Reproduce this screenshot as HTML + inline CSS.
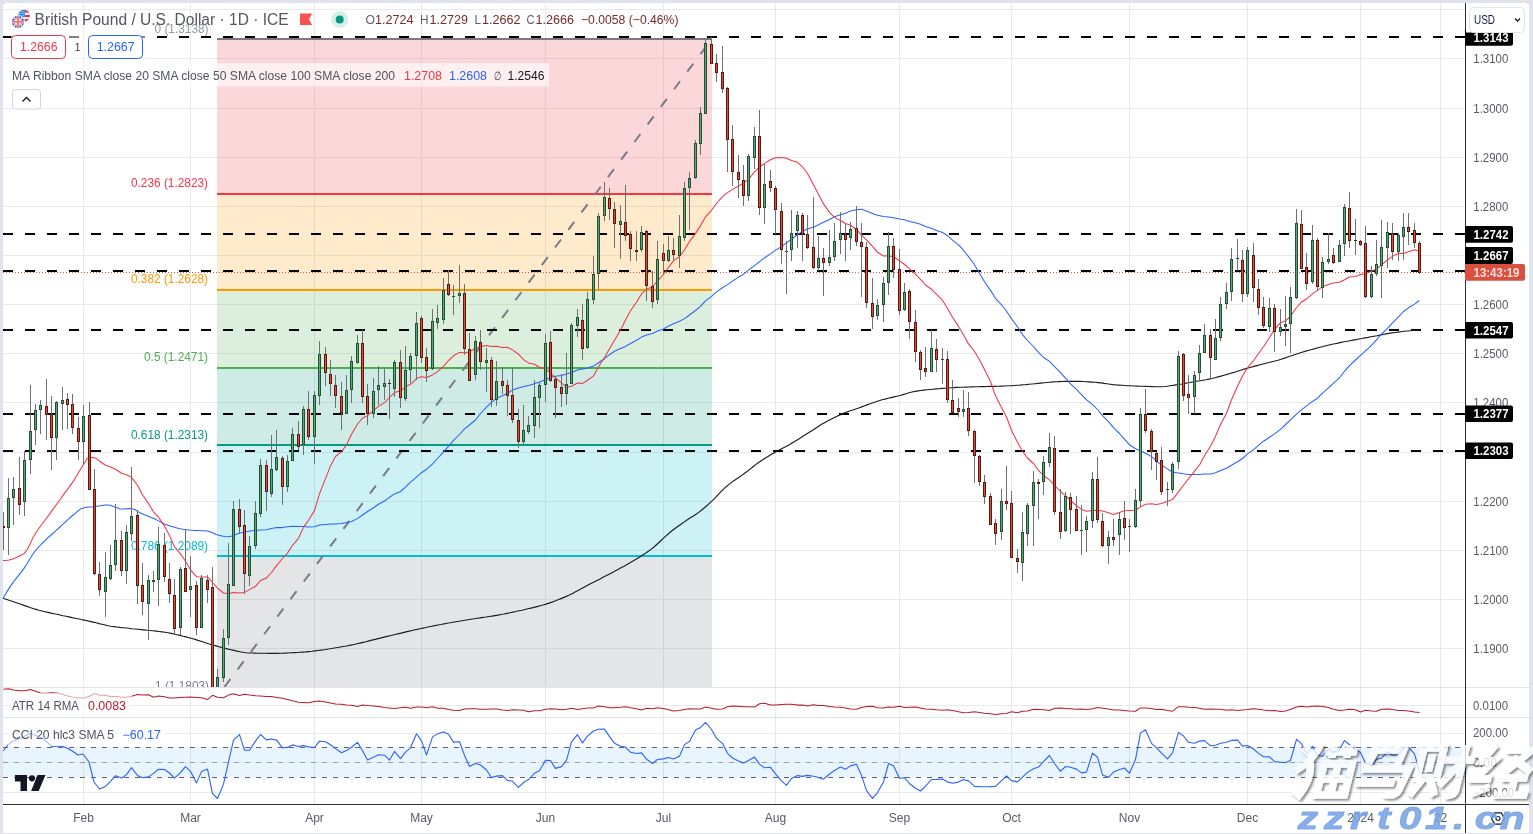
<!DOCTYPE html><html><head><meta charset="utf-8"><style>html,body{margin:0;padding:0;background:#e0e3eb;}body{width:1533px;height:834px;overflow:hidden;position:relative;font-family:"Liberation Sans",sans-serif;}</style></head><body><svg width="1533" height="834" viewBox="0 0 1533 834" style="position:absolute;left:0;top:0;will-change:transform;font-family:'Liberation Sans',sans-serif">
<defs>
<clipPath id="cm"><rect x="3" y="3" width="1462" height="684"/></clipPath>
<clipPath id="ca"><rect x="3" y="688" width="1462" height="29"/></clipPath>
<clipPath id="cc"><rect x="3" y="718" width="1462" height="86"/></clipPath>
<filter id="sh" x="-10%" y="-10%" width="130%" height="140%"><feDropShadow dx="1.8" dy="1.8" stdDeviation="1.1" flood-color="#000" flood-opacity="0.6"/></filter>
</defs>
<rect x="0" y="0" width="1533" height="834" fill="#e0e3eb"/>
<path d="M3,833 V7 Q3,3 7,3 H1525 Q1529,3 1529,7 V833 Z" fill="#ffffff"/>
<g shape-rendering="crispEdges">
<rect x="83" y="3" width="1" height="801" fill="#e9e9ea"/>
<rect x="190" y="3" width="1" height="801" fill="#e9e9ea"/>
<rect x="314" y="3" width="1" height="801" fill="#e9e9ea"/>
<rect x="421" y="3" width="1" height="801" fill="#e9e9ea"/>
<rect x="545" y="3" width="1" height="801" fill="#e9e9ea"/>
<rect x="663" y="3" width="1" height="801" fill="#e9e9ea"/>
<rect x="775" y="3" width="1" height="801" fill="#e9e9ea"/>
<rect x="899" y="3" width="1" height="801" fill="#e9e9ea"/>
<rect x="1011" y="3" width="1" height="801" fill="#e9e9ea"/>
<rect x="1129" y="3" width="1" height="801" fill="#e9e9ea"/>
<rect x="1247" y="3" width="1" height="801" fill="#e9e9ea"/>
<rect x="1360" y="3" width="1" height="801" fill="#e9e9ea"/>
<rect x="1440" y="3" width="1" height="801" fill="#e9e9ea"/>
<rect x="3" y="9" width="1462" height="1" fill="#e9e9ea"/>
<rect x="3" y="58" width="1462" height="1" fill="#e9e9ea"/>
<rect x="3" y="108" width="1462" height="1" fill="#e9e9ea"/>
<rect x="3" y="157" width="1462" height="1" fill="#e9e9ea"/>
<rect x="3" y="206" width="1462" height="1" fill="#e9e9ea"/>
<rect x="3" y="255" width="1462" height="1" fill="#e9e9ea"/>
<rect x="3" y="304" width="1462" height="1" fill="#e9e9ea"/>
<rect x="3" y="353" width="1462" height="1" fill="#e9e9ea"/>
<rect x="3" y="402" width="1462" height="1" fill="#e9e9ea"/>
<rect x="3" y="452" width="1462" height="1" fill="#e9e9ea"/>
<rect x="3" y="501" width="1462" height="1" fill="#e9e9ea"/>
<rect x="3" y="550" width="1462" height="1" fill="#e9e9ea"/>
<rect x="3" y="599" width="1462" height="1" fill="#e9e9ea"/>
<rect x="3" y="648" width="1462" height="1" fill="#e9e9ea"/>
<rect x="3" y="705" width="1462" height="1" fill="#e9e9ea"/>
<rect x="3" y="733" width="1462" height="1" fill="#e9e9ea"/>
<rect x="3" y="792" width="1462" height="1" fill="#e9e9ea"/>
</g>
<g clip-path="url(#cm)" shape-rendering="crispEdges">
<rect x="217" y="39" width="495" height="155" fill="#f23645" fill-opacity="0.2"/>
<rect x="217" y="194" width="495" height="96" fill="#ff9800" fill-opacity="0.2"/>
<rect x="217" y="290" width="495" height="78" fill="#4caf50" fill-opacity="0.2"/>
<rect x="217" y="368" width="495" height="77" fill="#089981" fill-opacity="0.2"/>
<rect x="217" y="445" width="495" height="111" fill="#00bcd4" fill-opacity="0.2"/>
<rect x="217" y="556" width="495" height="131" fill="#787b86" fill-opacity="0.2"/>
<rect x="217" y="38" width="495" height="2" fill="#787b86"/>
<rect x="217" y="193" width="495" height="2" fill="#f23645"/>
<rect x="217" y="289" width="495" height="2" fill="#ff9800"/>
<rect x="217" y="367" width="495" height="2" fill="#4caf50"/>
<rect x="217" y="444" width="495" height="2" fill="#089981"/>
<rect x="217" y="555" width="495" height="2" fill="#00bcd4"/>
</g>
<text x="154.5" y="32.5" font-size="12" fill="#9598a1" textLength="54" lengthAdjust="spacingAndGlyphs">0 (1.3138)</text>
<text x="131" y="187.3" font-size="12" fill="#f23645" textLength="77" lengthAdjust="spacingAndGlyphs">0.236 (1.2823)</text>
<text x="131" y="283.3" font-size="12" fill="#ff9800" textLength="77" lengthAdjust="spacingAndGlyphs">0.382 (1.2628)</text>
<text x="144" y="361.3" font-size="12" fill="#4caf50" textLength="64" lengthAdjust="spacingAndGlyphs">0.5 (1.2471)</text>
<text x="131" y="438.7" font-size="12" fill="#089981" textLength="77" lengthAdjust="spacingAndGlyphs">0.618 (1.2313)</text>
<text x="131" y="549.6" font-size="12" fill="#00bcd4" textLength="77" lengthAdjust="spacingAndGlyphs">0.786 (1.2089)</text>
<g clip-path="url(#cm)"><text x="155" y="690.2" font-size="12" fill="#787b86" textLength="54" lengthAdjust="spacingAndGlyphs">1 (1.1803)</text></g>
<g clip-path="url(#cm)"><line x1="217.5" y1="696.2" x2="711.5" y2="39.5" stroke="#787b86" stroke-width="2" stroke-dasharray="10 12" stroke-dashoffset="-11.5"/></g>
<line x1="3" y1="37" x2="1465" y2="37" stroke="#000" stroke-width="2" stroke-dasharray="10 12" shape-rendering="crispEdges"/>
<line x1="3" y1="234" x2="1465" y2="234" stroke="#000" stroke-width="2" stroke-dasharray="10 12" shape-rendering="crispEdges"/>
<line x1="3" y1="271" x2="1465" y2="271" stroke="#000" stroke-width="2" stroke-dasharray="10 12" shape-rendering="crispEdges"/>
<line x1="3" y1="330" x2="1465" y2="330" stroke="#000" stroke-width="2" stroke-dasharray="10 12" shape-rendering="crispEdges"/>
<line x1="3" y1="414" x2="1465" y2="414" stroke="#000" stroke-width="2" stroke-dasharray="10 12" shape-rendering="crispEdges"/>
<line x1="3" y1="451" x2="1465" y2="451" stroke="#000" stroke-width="2" stroke-dasharray="10 12" shape-rendering="crispEdges"/>
<g clip-path="url(#cm)">
<polyline points="3.0,598.2 6.0,599.2 9.0,600.3 12.0,601.3 15.0,602.3 18.0,603.3 21.0,604.3 24.0,605.4 27.0,606.4 30.0,607.5 33.0,608.5 36.0,609.4 39.0,610.3 42.0,611.0 45.0,611.7 48.0,612.4 51.0,613.1 54.0,613.7 57.0,614.3 60.0,615.0 63.0,615.7 66.0,616.3 69.0,616.9 72.0,617.6 75.0,618.2 78.0,618.8 81.0,619.5 84.0,620.1 87.0,620.7 90.0,621.4 93.0,622.1 96.0,622.8 99.0,623.6 102.0,624.3 105.0,625.0 108.0,625.7 111.0,626.2 114.0,626.6 117.0,627.0 120.0,627.4 123.0,627.7 126.0,628.0 129.0,628.3 132.0,628.7 135.0,629.0 138.0,629.3 141.0,629.6 144.0,629.9 147.0,630.2 150.0,630.5 153.0,630.8 156.0,631.1 159.0,631.5 162.0,631.9 165.0,632.3 168.0,632.8 171.0,633.4 174.0,634.0 177.0,634.7 180.0,635.4 183.0,636.2 186.0,636.9 189.0,637.7 192.0,638.5 195.0,639.4 198.0,640.4 201.0,641.3 204.0,642.3 207.0,643.3 210.0,644.2 213.0,645.1 216.0,645.9 219.0,646.8 222.0,647.6 225.0,648.3 228.0,649.1 231.0,649.7 234.0,650.4 237.0,651.1 240.0,651.7 243.0,652.3 246.0,652.7 249.0,653.0 252.0,653.0 255.0,653.1 258.0,653.2 261.0,653.2 264.0,653.2 267.0,653.3 270.0,653.3 273.0,653.3 276.0,653.3 279.0,653.3 282.0,653.2 285.0,653.1 288.0,653.0 291.0,652.8 294.0,652.6 297.0,652.5 300.0,652.3 303.0,652.1 306.0,651.9 309.0,651.6 312.0,651.3 315.0,650.9 318.0,650.5 321.0,650.1 324.0,649.7 327.0,649.2 330.0,648.8 333.0,648.3 336.0,647.8 339.0,647.3 342.0,646.8 345.0,646.3 348.0,645.7 351.0,645.1 354.0,644.5 357.0,643.8 360.0,643.1 363.0,642.4 366.0,641.7 369.0,640.9 372.0,640.1 375.0,639.4 378.0,638.6 381.0,637.9 384.0,637.1 387.0,636.4 390.0,635.7 393.0,635.0 396.0,634.3 399.0,633.6 402.0,632.9 405.0,632.1 408.0,631.4 411.0,630.7 414.0,630.0 417.0,629.4 420.0,628.7 423.0,628.1 426.0,627.5 429.0,626.8 432.0,626.2 435.0,625.6 438.0,625.0 441.0,624.5 444.0,623.9 447.0,623.3 450.0,622.8 453.0,622.2 456.0,621.7 459.0,621.2 462.0,620.7 465.0,620.2 468.0,619.7 471.0,619.2 474.0,618.8 477.0,618.3 480.0,617.9 483.0,617.4 486.0,617.0 489.0,616.5 492.0,616.1 495.0,615.6 498.0,615.1 501.0,614.5 504.0,614.0 507.0,613.4 510.0,612.8 513.0,612.1 516.0,611.5 519.0,610.8 522.0,610.2 525.0,609.5 528.0,608.8 531.0,608.1 534.0,607.4 537.0,606.6 540.0,605.8 543.0,605.0 546.0,604.1 549.0,603.1 552.0,602.1 555.0,601.0 558.0,599.8 561.0,598.6 564.0,597.4 567.0,596.1 570.0,594.7 573.0,593.2 576.0,591.6 579.0,590.0 582.0,588.3 585.0,586.7 588.0,585.1 591.0,583.5 594.0,581.9 597.0,580.4 600.0,578.9 603.0,577.3 606.0,575.8 609.0,574.3 612.0,572.7 615.0,571.1 618.0,569.5 621.0,567.8 624.0,566.2 627.0,564.5 630.0,562.8 633.0,561.1 636.0,559.3 639.0,557.4 642.0,555.5 645.0,553.6 648.0,551.5 651.0,549.4 654.0,547.0 657.0,544.3 660.0,541.5 663.0,538.7 666.0,535.9 669.0,533.2 672.0,530.8 675.0,528.5 678.0,526.3 681.0,524.2 684.0,522.1 687.0,520.0 690.0,518.1 693.0,516.2 696.0,514.2 699.0,512.1 702.0,509.8 705.0,507.3 708.0,504.7 711.0,501.9 714.0,499.1 717.0,495.9 720.0,492.7 723.0,489.6 726.0,486.8 729.0,484.4 732.0,482.1 735.0,480.0 738.0,477.9 741.0,475.9 744.0,473.7 747.0,471.5 750.0,469.1 753.0,466.7 756.0,464.4 759.0,462.2 762.0,460.2 765.0,458.2 768.0,456.4 771.0,454.6 774.0,452.9 777.0,451.2 780.0,449.6 783.0,448.0 786.0,446.5 789.0,444.9 792.0,443.1 795.0,441.3 798.0,439.5 801.0,437.5 804.0,435.6 807.0,433.7 810.0,431.8 813.0,429.9 816.0,427.9 819.0,426.0 822.0,424.1 825.0,422.4 828.0,420.8 831.0,419.2 834.0,417.7 837.0,416.2 840.0,414.9 843.0,413.6 846.0,412.4 849.0,411.3 852.0,410.3 855.0,409.2 858.0,408.2 861.0,407.1 864.0,406.0 867.0,404.9 870.0,403.8 873.0,402.7 876.0,401.7 879.0,400.7 882.0,399.8 885.0,399.1 888.0,398.3 891.0,397.6 894.0,396.9 897.0,396.2 900.0,395.5 903.0,394.6 906.0,393.7 909.0,392.8 912.0,392.0 915.0,391.4 918.0,390.9 921.0,390.5 924.0,390.1 927.0,389.8 930.0,389.5 933.0,389.2 936.0,388.9 939.0,388.7 942.0,388.4 945.0,388.2 948.0,388.0 951.0,387.8 954.0,387.6 957.0,387.4 960.0,387.3 963.0,387.2 966.0,387.1 969.0,387.0 972.0,386.9 975.0,386.8 978.0,386.7 981.0,386.6 984.0,386.6 987.0,386.5 990.0,386.4 993.0,386.3 996.0,386.3 999.0,386.2 1002.0,386.1 1005.0,386.0 1008.0,385.8 1011.0,385.7 1014.0,385.5 1017.0,385.3 1020.0,385.1 1023.0,384.8 1026.0,384.6 1029.0,384.3 1032.0,384.0 1035.0,383.7 1038.0,383.4 1041.0,383.1 1044.0,382.8 1047.0,382.5 1050.0,382.2 1053.0,381.9 1056.0,381.8 1059.0,381.6 1062.0,381.5 1065.0,381.4 1068.0,381.4 1071.0,381.3 1074.0,381.3 1077.0,381.3 1080.0,381.4 1083.0,381.5 1086.0,381.7 1089.0,381.9 1092.0,382.1 1095.0,382.3 1098.0,382.6 1101.0,382.9 1104.0,383.4 1107.0,383.8 1110.0,384.2 1113.0,384.6 1116.0,384.9 1119.0,385.1 1122.0,385.3 1125.0,385.5 1128.0,385.7 1131.0,385.8 1134.0,386.0 1137.0,386.1 1140.0,386.2 1143.0,386.3 1146.0,386.4 1149.0,386.5 1152.0,386.6 1155.0,386.7 1158.0,386.7 1161.0,386.7 1164.0,386.5 1167.0,386.2 1170.0,385.8 1173.0,385.4 1176.0,384.9 1179.0,384.5 1182.0,384.0 1185.0,383.4 1188.0,382.8 1191.0,382.2 1194.0,381.7 1197.0,381.2 1200.0,380.7 1203.0,380.2 1206.0,379.7 1209.0,379.1 1212.0,378.5 1215.0,377.7 1218.0,376.9 1221.0,376.1 1224.0,375.2 1227.0,374.4 1230.0,373.5 1233.0,372.6 1236.0,371.7 1239.0,370.7 1242.0,369.8 1245.0,368.9 1248.0,368.0 1251.0,367.2 1254.0,366.4 1257.0,365.6 1260.0,364.8 1263.0,364.0 1266.0,363.2 1269.0,362.5 1272.0,361.7 1275.0,361.0 1278.0,360.2 1281.0,359.3 1284.0,358.4 1287.0,357.3 1290.0,356.3 1293.0,355.2 1296.0,354.2 1299.0,353.2 1302.0,352.3 1305.0,351.4 1308.0,350.5 1311.0,349.7 1314.0,348.9 1317.0,348.0 1320.0,347.2 1323.0,346.5 1326.0,345.7 1329.0,345.0 1332.0,344.3 1335.0,343.7 1338.0,343.1 1341.0,342.4 1344.0,341.8 1347.0,341.3 1350.0,340.7 1353.0,340.1 1356.0,339.6 1359.0,339.0 1362.0,338.5 1365.0,337.9 1368.0,337.4 1371.0,336.8 1374.0,336.2 1377.0,335.7 1380.0,335.1 1383.0,334.5 1386.0,333.9 1389.0,333.4 1392.0,332.9 1395.0,332.5 1398.0,332.1 1401.0,331.7 1404.0,331.3 1407.0,331.0 1410.0,330.7 1413.0,330.4 1416.0,330.1 1419.0,329.8 1419.5,329.8" fill="none" stroke="#1c1c1c" stroke-width="1.15" stroke-linejoin="round" />
<polyline points="3.0,598.2 6.0,593.2 9.0,588.4 12.0,583.9 15.0,579.8 18.0,576.1 21.0,572.4 24.0,568.4 27.0,563.8 30.0,558.7 33.0,554.0 36.0,550.0 39.0,546.6 42.0,543.5 45.0,540.6 48.0,537.7 51.0,535.0 54.0,532.3 57.0,529.7 60.0,527.0 63.0,524.2 66.0,521.4 69.0,518.7 72.0,516.0 75.0,513.6 78.0,510.9 81.0,508.7 84.0,507.7 87.0,507.3 90.0,507.0 93.0,506.7 96.0,506.3 99.0,505.9 102.0,505.5 105.0,505.1 108.0,505.0 111.0,505.6 114.0,506.7 117.0,507.8 120.0,508.9 123.0,509.0 126.0,508.8 129.0,508.6 132.0,508.7 135.0,509.8 138.0,511.6 141.0,513.3 144.0,514.6 147.0,515.8 150.0,517.0 153.0,518.2 156.0,519.6 159.0,521.1 162.0,522.8 165.0,524.2 168.0,525.3 171.0,526.3 174.0,527.1 177.0,527.9 180.0,528.7 183.0,529.3 186.0,529.7 189.0,530.1 192.0,530.3 195.0,530.5 198.0,530.6 201.0,530.7 204.0,530.8 207.0,530.9 210.0,531.7 213.0,533.1 216.0,534.5 219.0,535.3 222.0,536.0 225.0,536.5 228.0,536.7 231.0,536.2 234.0,535.2 237.0,534.0 240.0,533.0 243.0,532.4 246.0,531.8 249.0,531.2 252.0,530.8 255.0,530.4 256.0,530.3 266.5,529.7 271.5,528.5 276.5,527.6 282.5,527.6 287.5,526.7 292.5,526.2 298.5,526.5 303.5,526.5 308.5,527.1 314.5,526.7 319.5,525.0 325.5,524.4 330.5,524.1 335.5,523.9 341.5,523.6 346.5,522.6 351.5,521.5 357.5,518.6 362.5,515.0 367.5,511.5 373.5,507.8 378.5,504.2 384.5,501.0 389.5,497.3 394.5,493.9 400.5,491.5 405.5,487.2 410.5,482.2 416.5,477.1 421.5,472.7 426.5,469.2 432.5,464.1 437.5,458.5 443.5,451.8 448.5,446.3 453.5,440.4 459.5,434.5 464.5,428.9 469.5,425.0 475.5,420.0 480.5,413.5 486.5,407.1 491.5,402.4 496.5,398.3 502.5,395.8 507.5,393.2 512.5,390.1 518.5,388.1 523.5,386.4 528.5,385.6 534.5,383.7 539.5,382.0 545.5,379.8 550.5,377.6 555.5,376.2 561.5,375.4 566.5,374.1 571.5,372.4 577.5,370.1 582.5,369.1 587.5,368.0 593.5,366.1 598.5,362.7 604.5,358.7 609.5,354.7 614.5,351.3 620.5,348.5 625.5,346.4 630.5,343.5 636.5,340.2 641.5,337.1 646.5,335.1 652.5,333.5 657.5,331.0 663.5,329.0 668.5,326.0 673.5,323.7 679.5,321.3 684.5,318.6 689.5,315.0 695.5,310.5 700.5,306.3 705.5,300.8 711.5,296.3 716.5,291.9 722.5,287.7 727.5,284.6 732.5,281.1 738.5,277.1 743.5,274.2 748.5,270.1 754.5,265.6 759.5,261.7 764.5,257.8 770.5,253.9 775.5,250.1 781.5,246.7 786.5,242.9 791.5,239.0 797.5,234.8 802.5,231.5 807.5,228.7 813.5,227.2 818.5,224.8 823.5,222.3 829.5,219.5 834.5,216.7 840.5,214.8 845.5,213.3 850.5,210.9 856.5,209.8 861.5,209.2 866.5,211.0 872.5,213.4 877.5,215.3 883.5,216.5 888.5,217.0 893.5,217.7 899.5,218.9 904.5,219.7 909.5,221.5 915.5,222.8 920.5,224.2 925.5,226.4 931.5,228.2 936.5,230.4 942.5,232.4 947.5,235.7 952.5,240.2 958.5,244.9 963.5,250.2 968.5,256.6 974.5,264.8 979.5,273.2 984.5,281.7 990.5,290.4 995.5,298.3 1001.5,304.8 1006.5,311.3 1011.5,318.6 1017.5,326.7 1022.5,334.6 1027.5,340.5 1033.5,346.5 1038.5,352.4 1043.5,357.5 1049.5,361.4 1054.5,366.6 1060.5,372.6 1065.5,378.2 1070.5,383.8 1076.5,389.4 1081.5,394.7 1086.5,399.9 1092.5,404.3 1097.5,409.5 1102.5,415.6 1108.5,421.7 1113.5,427.7 1119.5,433.5 1124.5,439.2 1129.5,444.8 1135.5,448.7 1140.5,450.7 1145.5,453.2 1151.5,456.6 1156.5,460.9 1161.5,465.3 1167.5,468.9 1172.5,472.3 1178.5,473.0 1183.5,473.8 1188.5,474.4 1194.5,474.4 1199.5,474.5 1204.5,474.1 1210.5,474.0 1215.5,472.8 1220.5,470.6 1226.5,468.2 1231.5,465.2 1237.5,461.8 1242.5,458.5 1247.5,453.9 1253.5,449.7 1258.5,445.4 1263.5,441.2 1269.5,437.3 1274.5,433.9 1280.5,429.3 1285.5,424.5 1290.5,419.8 1296.5,414.2 1301.5,409.9 1306.5,405.9 1312.5,401.4 1317.5,398.2 1322.5,393.2 1328.5,387.8 1333.5,383.1 1339.5,377.8 1344.5,371.3 1349.5,365.6 1355.5,360.0 1360.5,355.3 1365.5,350.8 1371.5,345.3 1376.5,339.9 1381.5,334.0 1387.5,328.3 1392.5,322.8 1398.5,316.9 1403.5,311.5 1408.5,307.8 1414.5,304.1 1419.5,300.5" fill="none" stroke="#2962ff" stroke-width="1.05" stroke-linejoin="round" />
<polyline points="3.0,560.6 6.0,560.4 9.0,560.0 12.0,559.2 15.0,558.1 18.0,556.8 21.0,555.3 24.0,553.6 27.0,550.0 30.0,544.0 33.0,537.6 36.0,532.5 39.0,528.2 42.0,524.2 45.0,520.3 48.0,516.2 51.0,512.1 54.0,507.9 57.0,503.7 60.0,499.5 63.0,495.4 66.0,491.4 69.0,487.4 72.0,483.1 75.0,478.6 78.0,473.6 81.0,468.5 84.0,463.8 87.0,458.7 90.0,457.2 93.0,457.5 96.0,458.3 99.0,460.6 99.5,461.0 105.5,465.3 110.5,467.1 115.5,469.2 121.5,473.3 126.5,474.7 131.5,477.4 137.5,485.2 142.5,494.8 148.5,503.6 153.5,511.8 158.5,517.2 164.5,525.9 169.5,535.6 174.5,546.8 180.5,553.9 185.5,561.3 190.5,569.8 196.5,576.7 201.5,576.9 207.5,576.9 212.5,582.5 217.5,588.1 223.5,593.0 228.5,593.7 233.5,592.5 239.5,593.0 244.5,592.4 249.5,589.6 255.5,586.3 260.5,580.5 266.5,577.9 271.5,572.5 276.5,565.6 282.5,558.5 287.5,553.1 292.5,545.3 298.5,538.3 303.5,527.4 308.5,520.3 314.5,510.6 319.5,493.8 325.5,478.6 330.5,465.9 335.5,456.5 341.5,451.7 346.5,444.9 351.5,434.2 357.5,424.0 362.5,418.2 367.5,415.6 373.5,410.6 378.5,406.4 384.5,402.6 389.5,397.5 394.5,392.6 400.5,390.8 405.5,386.9 410.5,384.3 416.5,378.6 421.5,376.7 426.5,377.5 432.5,374.9 437.5,371.6 443.5,366.4 448.5,360.5 453.5,355.8 459.5,352.4 464.5,352.7 469.5,351.9 475.5,348.2 480.5,346.8 486.5,345.6 491.5,346.4 496.5,346.3 502.5,347.4 507.5,347.3 512.5,349.9 518.5,354.2 523.5,359.6 528.5,362.9 534.5,364.3 539.5,367.5 545.5,368.7 550.5,373.2 555.5,377.9 561.5,382.8 566.5,387.3 571.5,386.2 577.5,383.0 582.5,383.4 587.5,380.2 593.5,375.9 598.5,366.7 604.5,357.5 609.5,348.7 614.5,340.2 620.5,330.2 625.5,319.9 630.5,310.8 636.5,302.2 641.5,293.9 646.5,289.0 652.5,287.0 657.5,280.9 663.5,274.5 668.5,267.3 673.5,260.9 679.5,256.4 684.5,250.0 689.5,241.5 695.5,233.6 700.5,225.6 705.5,216.9 711.5,210.3 716.5,203.5 722.5,196.7 727.5,192.6 732.5,189.4 738.5,186.0 743.5,183.1 748.5,179.3 754.5,171.8 759.5,167.1 764.5,163.4 770.5,159.7 775.5,157.7 781.5,157.5 786.5,158.2 791.5,160.4 797.5,162.3 802.5,166.8 807.5,173.5 813.5,184.7 818.5,194.4 823.5,203.9 829.5,212.4 834.5,217.4 840.5,220.5 845.5,223.5 850.5,225.2 856.5,229.5 861.5,235.1 866.5,239.8 872.5,246.4 877.5,252.3 883.5,256.0 888.5,255.8 893.5,256.8 899.5,260.7 904.5,264.5 909.5,268.9 915.5,274.2 920.5,279.3 925.5,285.0 931.5,289.3 936.5,294.4 942.5,300.3 947.5,308.6 952.5,317.3 958.5,326.4 963.5,334.7 968.5,343.9 974.5,351.5 979.5,359.8 984.5,369.4 990.5,381.5 995.5,395.8 1001.5,407.4 1006.5,417.0 1011.5,430.3 1017.5,442.3 1022.5,451.3 1027.5,458.0 1033.5,463.5 1038.5,470.3 1043.5,475.5 1049.5,479.9 1054.5,485.5 1060.5,491.4 1065.5,495.7 1070.5,500.7 1076.5,505.7 1081.5,509.4 1086.5,511.3 1092.5,510.4 1097.5,510.2 1102.5,510.9 1108.5,512.7 1113.5,514.5 1119.5,512.5 1124.5,510.8 1129.5,510.5 1135.5,510.3 1140.5,506.9 1145.5,504.2 1151.5,503.7 1156.5,504.4 1161.5,503.4 1167.5,501.2 1172.5,499.6 1178.5,491.9 1183.5,485.2 1188.5,478.6 1194.5,471.3 1199.5,465.0 1204.5,455.7 1210.5,446.2 1215.5,436.3 1220.5,424.5 1226.5,413.2 1231.5,399.7 1237.5,386.3 1242.5,376.0 1247.5,367.8 1253.5,360.7 1258.5,353.5 1263.5,346.7 1269.5,337.5 1274.5,329.6 1280.5,322.7 1285.5,321.1 1290.5,316.2 1296.5,307.5 1301.5,302.2 1306.5,298.7 1312.5,293.9 1317.5,290.4 1322.5,286.6 1328.5,284.4 1333.5,282.9 1339.5,282.2 1344.5,279.7 1349.5,277.0 1355.5,276.6 1360.5,274.4 1365.5,273.8 1371.5,271.2 1376.5,269.0 1381.5,264.8 1387.5,260.0 1392.5,256.4 1398.5,253.3 1403.5,253.5 1408.5,251.7 1414.5,249.7 1419.5,251.3" fill="none" stroke="#f23645" stroke-width="1.05" stroke-linejoin="round" />
</g>
<line x1="3" y1="272.5" x2="1465" y2="272.5" stroke="#d9503f" stroke-width="1" stroke-dasharray="1 2" shape-rendering="crispEdges"/>
<g clip-path="url(#cm)" shape-rendering="crispEdges">
<rect x="3" y="512" width="1" height="38" fill="#6f7074"/>
<rect x="2" y="526" width="3" height="2" fill="#5e160d"/>
<rect x="8" y="478" width="1" height="77" fill="#6f7074"/>
<rect x="7" y="498" width="3" height="30" fill="#1f5233"/>
<rect x="8" y="499" width="1" height="28" fill="#63a37b"/>
<rect x="13" y="477" width="1" height="48" fill="#6f7074"/>
<rect x="12" y="489" width="3" height="9" fill="#1f5233"/>
<rect x="13" y="490" width="1" height="7" fill="#63a37b"/>
<rect x="19" y="457" width="1" height="58" fill="#6f7074"/>
<rect x="18" y="488" width="3" height="17" fill="#5e160d"/>
<rect x="19" y="489" width="1" height="15" fill="#d9503f"/>
<rect x="24" y="451" width="1" height="65" fill="#6f7074"/>
<rect x="23" y="460" width="3" height="42" fill="#1f5233"/>
<rect x="24" y="461" width="1" height="40" fill="#63a37b"/>
<rect x="30" y="385" width="1" height="89" fill="#6f7074"/>
<rect x="29" y="431" width="3" height="29" fill="#1f5233"/>
<rect x="30" y="432" width="1" height="27" fill="#63a37b"/>
<rect x="35" y="404" width="1" height="41" fill="#6f7074"/>
<rect x="34" y="410" width="3" height="20" fill="#1f5233"/>
<rect x="35" y="411" width="1" height="18" fill="#63a37b"/>
<rect x="40" y="400" width="1" height="34" fill="#6f7074"/>
<rect x="39" y="405" width="3" height="5" fill="#1f5233"/>
<rect x="40" y="406" width="1" height="3" fill="#63a37b"/>
<rect x="46" y="379" width="1" height="61" fill="#6f7074"/>
<rect x="45" y="406" width="3" height="9" fill="#5e160d"/>
<rect x="46" y="407" width="1" height="7" fill="#d9503f"/>
<rect x="51" y="396" width="1" height="74" fill="#6f7074"/>
<rect x="50" y="414" width="3" height="24" fill="#5e160d"/>
<rect x="51" y="415" width="1" height="22" fill="#d9503f"/>
<rect x="56" y="401" width="1" height="59" fill="#6f7074"/>
<rect x="55" y="402" width="3" height="36" fill="#1f5233"/>
<rect x="56" y="403" width="1" height="34" fill="#63a37b"/>
<rect x="62" y="387" width="1" height="43" fill="#6f7074"/>
<rect x="61" y="400" width="3" height="4" fill="#1f5233"/>
<rect x="62" y="401" width="1" height="2" fill="#63a37b"/>
<rect x="67" y="393" width="1" height="36" fill="#6f7074"/>
<rect x="66" y="399" width="3" height="6" fill="#5e160d"/>
<rect x="67" y="400" width="1" height="4" fill="#d9503f"/>
<rect x="72" y="394" width="1" height="40" fill="#6f7074"/>
<rect x="71" y="404" width="3" height="24" fill="#5e160d"/>
<rect x="72" y="405" width="1" height="22" fill="#d9503f"/>
<rect x="78" y="417" width="1" height="43" fill="#6f7074"/>
<rect x="77" y="428" width="3" height="14" fill="#5e160d"/>
<rect x="78" y="429" width="1" height="12" fill="#d9503f"/>
<rect x="83" y="405" width="1" height="60" fill="#6f7074"/>
<rect x="82" y="416" width="3" height="26" fill="#1f5233"/>
<rect x="83" y="417" width="1" height="24" fill="#63a37b"/>
<rect x="89" y="402" width="1" height="88" fill="#6f7074"/>
<rect x="88" y="415" width="3" height="75" fill="#5e160d"/>
<rect x="89" y="416" width="1" height="73" fill="#d9503f"/>
<rect x="94" y="469" width="1" height="106" fill="#6f7074"/>
<rect x="93" y="489" width="3" height="85" fill="#5e160d"/>
<rect x="94" y="490" width="1" height="83" fill="#d9503f"/>
<rect x="99" y="562" width="1" height="34" fill="#6f7074"/>
<rect x="98" y="574" width="3" height="16" fill="#5e160d"/>
<rect x="99" y="575" width="1" height="14" fill="#d9503f"/>
<rect x="105" y="552" width="1" height="65" fill="#6f7074"/>
<rect x="104" y="577" width="3" height="15" fill="#1f5233"/>
<rect x="105" y="578" width="1" height="13" fill="#63a37b"/>
<rect x="110" y="545" width="1" height="35" fill="#6f7074"/>
<rect x="109" y="565" width="3" height="14" fill="#1f5233"/>
<rect x="110" y="566" width="1" height="12" fill="#63a37b"/>
<rect x="115" y="504" width="1" height="67" fill="#6f7074"/>
<rect x="114" y="540" width="3" height="25" fill="#1f5233"/>
<rect x="115" y="541" width="1" height="23" fill="#63a37b"/>
<rect x="121" y="531" width="1" height="45" fill="#6f7074"/>
<rect x="120" y="540" width="3" height="31" fill="#5e160d"/>
<rect x="121" y="541" width="1" height="29" fill="#d9503f"/>
<rect x="126" y="525" width="1" height="59" fill="#6f7074"/>
<rect x="125" y="532" width="3" height="39" fill="#1f5233"/>
<rect x="126" y="533" width="1" height="37" fill="#63a37b"/>
<rect x="131" y="467" width="1" height="74" fill="#6f7074"/>
<rect x="130" y="516" width="3" height="18" fill="#1f5233"/>
<rect x="131" y="517" width="1" height="16" fill="#63a37b"/>
<rect x="137" y="510" width="1" height="94" fill="#6f7074"/>
<rect x="136" y="515" width="3" height="71" fill="#5e160d"/>
<rect x="137" y="516" width="1" height="69" fill="#d9503f"/>
<rect x="142" y="563" width="1" height="52" fill="#6f7074"/>
<rect x="141" y="585" width="3" height="17" fill="#5e160d"/>
<rect x="142" y="586" width="1" height="15" fill="#d9503f"/>
<rect x="148" y="575" width="1" height="65" fill="#6f7074"/>
<rect x="147" y="580" width="3" height="24" fill="#1f5233"/>
<rect x="148" y="581" width="1" height="22" fill="#63a37b"/>
<rect x="153" y="571" width="1" height="21" fill="#6f7074"/>
<rect x="152" y="580" width="3" height="2" fill="#1f5233"/>
<rect x="158" y="527" width="1" height="79" fill="#6f7074"/>
<rect x="157" y="544" width="3" height="36" fill="#1f5233"/>
<rect x="158" y="545" width="1" height="34" fill="#63a37b"/>
<rect x="164" y="533" width="1" height="49" fill="#6f7074"/>
<rect x="163" y="545" width="3" height="32" fill="#5e160d"/>
<rect x="164" y="546" width="1" height="30" fill="#d9503f"/>
<rect x="169" y="563" width="1" height="40" fill="#6f7074"/>
<rect x="168" y="579" width="3" height="15" fill="#5e160d"/>
<rect x="169" y="580" width="1" height="13" fill="#d9503f"/>
<rect x="174" y="579" width="1" height="55" fill="#6f7074"/>
<rect x="173" y="595" width="3" height="34" fill="#5e160d"/>
<rect x="174" y="596" width="1" height="32" fill="#d9503f"/>
<rect x="180" y="567" width="1" height="68" fill="#6f7074"/>
<rect x="179" y="569" width="3" height="59" fill="#1f5233"/>
<rect x="180" y="570" width="1" height="57" fill="#63a37b"/>
<rect x="185" y="529" width="1" height="63" fill="#6f7074"/>
<rect x="184" y="568" width="3" height="24" fill="#5e160d"/>
<rect x="185" y="569" width="1" height="22" fill="#d9503f"/>
<rect x="190" y="556" width="1" height="61" fill="#6f7074"/>
<rect x="189" y="586" width="3" height="4" fill="#1f5233"/>
<rect x="190" y="587" width="1" height="2" fill="#63a37b"/>
<rect x="196" y="581" width="1" height="54" fill="#6f7074"/>
<rect x="195" y="585" width="3" height="43" fill="#5e160d"/>
<rect x="196" y="586" width="1" height="41" fill="#d9503f"/>
<rect x="201" y="575" width="1" height="53" fill="#6f7074"/>
<rect x="200" y="578" width="3" height="50" fill="#1f5233"/>
<rect x="201" y="579" width="1" height="48" fill="#63a37b"/>
<rect x="207" y="575" width="1" height="28" fill="#6f7074"/>
<rect x="206" y="580" width="3" height="10" fill="#5e160d"/>
<rect x="207" y="581" width="1" height="8" fill="#d9503f"/>
<rect x="212" y="567" width="1" height="129" fill="#6f7074"/>
<rect x="211" y="587" width="3" height="103" fill="#5e160d"/>
<rect x="212" y="588" width="1" height="101" fill="#d9503f"/>
<rect x="217" y="669" width="1" height="27" fill="#6f7074"/>
<rect x="216" y="677" width="3" height="13" fill="#1f5233"/>
<rect x="217" y="678" width="1" height="11" fill="#63a37b"/>
<rect x="223" y="629" width="1" height="53" fill="#6f7074"/>
<rect x="222" y="638" width="3" height="40" fill="#1f5233"/>
<rect x="223" y="639" width="1" height="38" fill="#63a37b"/>
<rect x="228" y="543" width="1" height="102" fill="#6f7074"/>
<rect x="227" y="584" width="3" height="54" fill="#1f5233"/>
<rect x="228" y="585" width="1" height="52" fill="#63a37b"/>
<rect x="233" y="501" width="1" height="85" fill="#6f7074"/>
<rect x="232" y="509" width="3" height="77" fill="#1f5233"/>
<rect x="233" y="510" width="1" height="75" fill="#63a37b"/>
<rect x="239" y="499" width="1" height="34" fill="#6f7074"/>
<rect x="238" y="509" width="3" height="18" fill="#5e160d"/>
<rect x="239" y="510" width="1" height="16" fill="#d9503f"/>
<rect x="244" y="510" width="1" height="84" fill="#6f7074"/>
<rect x="243" y="525" width="3" height="49" fill="#5e160d"/>
<rect x="244" y="526" width="1" height="47" fill="#d9503f"/>
<rect x="249" y="536" width="1" height="50" fill="#6f7074"/>
<rect x="248" y="546" width="3" height="30" fill="#1f5233"/>
<rect x="249" y="547" width="1" height="28" fill="#63a37b"/>
<rect x="255" y="501" width="1" height="48" fill="#6f7074"/>
<rect x="254" y="513" width="3" height="33" fill="#1f5233"/>
<rect x="255" y="514" width="1" height="31" fill="#63a37b"/>
<rect x="260" y="459" width="1" height="58" fill="#6f7074"/>
<rect x="259" y="465" width="3" height="49" fill="#1f5233"/>
<rect x="260" y="466" width="1" height="47" fill="#63a37b"/>
<rect x="266" y="460" width="1" height="51" fill="#6f7074"/>
<rect x="265" y="465" width="3" height="27" fill="#5e160d"/>
<rect x="266" y="466" width="1" height="25" fill="#d9503f"/>
<rect x="271" y="435" width="1" height="62" fill="#6f7074"/>
<rect x="270" y="469" width="3" height="25" fill="#1f5233"/>
<rect x="271" y="470" width="1" height="23" fill="#63a37b"/>
<rect x="276" y="430" width="1" height="41" fill="#6f7074"/>
<rect x="275" y="457" width="3" height="13" fill="#1f5233"/>
<rect x="276" y="458" width="1" height="11" fill="#63a37b"/>
<rect x="282" y="456" width="1" height="49" fill="#6f7074"/>
<rect x="281" y="458" width="3" height="29" fill="#5e160d"/>
<rect x="282" y="459" width="1" height="27" fill="#d9503f"/>
<rect x="287" y="455" width="1" height="37" fill="#6f7074"/>
<rect x="286" y="461" width="3" height="26" fill="#1f5233"/>
<rect x="287" y="462" width="1" height="24" fill="#63a37b"/>
<rect x="292" y="428" width="1" height="33" fill="#6f7074"/>
<rect x="291" y="434" width="3" height="27" fill="#1f5233"/>
<rect x="292" y="435" width="1" height="25" fill="#63a37b"/>
<rect x="298" y="421" width="1" height="29" fill="#6f7074"/>
<rect x="297" y="434" width="3" height="13" fill="#5e160d"/>
<rect x="298" y="435" width="1" height="11" fill="#d9503f"/>
<rect x="303" y="406" width="1" height="49" fill="#6f7074"/>
<rect x="302" y="409" width="3" height="36" fill="#1f5233"/>
<rect x="303" y="410" width="1" height="34" fill="#63a37b"/>
<rect x="308" y="391" width="1" height="49" fill="#6f7074"/>
<rect x="307" y="409" width="3" height="28" fill="#5e160d"/>
<rect x="308" y="410" width="1" height="26" fill="#d9503f"/>
<rect x="314" y="391" width="1" height="73" fill="#6f7074"/>
<rect x="313" y="395" width="3" height="42" fill="#1f5233"/>
<rect x="314" y="396" width="1" height="40" fill="#63a37b"/>
<rect x="319" y="341" width="1" height="64" fill="#6f7074"/>
<rect x="318" y="354" width="3" height="42" fill="#1f5233"/>
<rect x="319" y="355" width="1" height="40" fill="#63a37b"/>
<rect x="325" y="347" width="1" height="39" fill="#6f7074"/>
<rect x="324" y="354" width="3" height="19" fill="#5e160d"/>
<rect x="325" y="355" width="1" height="17" fill="#d9503f"/>
<rect x="330" y="360" width="1" height="36" fill="#6f7074"/>
<rect x="329" y="374" width="3" height="10" fill="#5e160d"/>
<rect x="330" y="375" width="1" height="8" fill="#d9503f"/>
<rect x="335" y="375" width="1" height="33" fill="#6f7074"/>
<rect x="334" y="385" width="3" height="11" fill="#5e160d"/>
<rect x="335" y="386" width="1" height="9" fill="#d9503f"/>
<rect x="341" y="382" width="1" height="48" fill="#6f7074"/>
<rect x="340" y="396" width="3" height="17" fill="#5e160d"/>
<rect x="341" y="397" width="1" height="15" fill="#d9503f"/>
<rect x="346" y="375" width="1" height="39" fill="#6f7074"/>
<rect x="345" y="390" width="3" height="24" fill="#1f5233"/>
<rect x="346" y="391" width="1" height="22" fill="#63a37b"/>
<rect x="351" y="356" width="1" height="47" fill="#6f7074"/>
<rect x="350" y="361" width="3" height="29" fill="#1f5233"/>
<rect x="351" y="362" width="1" height="27" fill="#63a37b"/>
<rect x="357" y="335" width="1" height="29" fill="#6f7074"/>
<rect x="356" y="343" width="3" height="20" fill="#1f5233"/>
<rect x="357" y="344" width="1" height="18" fill="#63a37b"/>
<rect x="362" y="330" width="1" height="73" fill="#6f7074"/>
<rect x="361" y="343" width="3" height="54" fill="#5e160d"/>
<rect x="362" y="344" width="1" height="52" fill="#d9503f"/>
<rect x="367" y="384" width="1" height="41" fill="#6f7074"/>
<rect x="366" y="396" width="3" height="18" fill="#5e160d"/>
<rect x="367" y="397" width="1" height="16" fill="#d9503f"/>
<rect x="373" y="378" width="1" height="40" fill="#6f7074"/>
<rect x="372" y="391" width="3" height="23" fill="#1f5233"/>
<rect x="373" y="392" width="1" height="21" fill="#63a37b"/>
<rect x="378" y="366" width="1" height="39" fill="#6f7074"/>
<rect x="377" y="385" width="3" height="5" fill="#1f5233"/>
<rect x="378" y="386" width="1" height="3" fill="#63a37b"/>
<rect x="384" y="369" width="1" height="31" fill="#6f7074"/>
<rect x="383" y="383" width="3" height="4" fill="#1f5233"/>
<rect x="384" y="384" width="1" height="2" fill="#63a37b"/>
<rect x="389" y="379" width="1" height="40" fill="#6f7074"/>
<rect x="388" y="383" width="3" height="1" fill="#5e160d"/>
<rect x="394" y="360" width="1" height="37" fill="#6f7074"/>
<rect x="393" y="362" width="3" height="27" fill="#1f5233"/>
<rect x="394" y="363" width="1" height="25" fill="#63a37b"/>
<rect x="400" y="350" width="1" height="58" fill="#6f7074"/>
<rect x="399" y="362" width="3" height="36" fill="#5e160d"/>
<rect x="400" y="363" width="1" height="34" fill="#d9503f"/>
<rect x="405" y="346" width="1" height="55" fill="#6f7074"/>
<rect x="404" y="370" width="3" height="29" fill="#1f5233"/>
<rect x="405" y="371" width="1" height="27" fill="#63a37b"/>
<rect x="410" y="353" width="1" height="30" fill="#6f7074"/>
<rect x="409" y="356" width="3" height="14" fill="#1f5233"/>
<rect x="410" y="357" width="1" height="12" fill="#63a37b"/>
<rect x="416" y="312" width="1" height="68" fill="#6f7074"/>
<rect x="415" y="323" width="3" height="33" fill="#1f5233"/>
<rect x="416" y="324" width="1" height="31" fill="#63a37b"/>
<rect x="421" y="316" width="1" height="47" fill="#6f7074"/>
<rect x="420" y="318" width="3" height="40" fill="#5e160d"/>
<rect x="421" y="319" width="1" height="38" fill="#d9503f"/>
<rect x="426" y="348" width="1" height="34" fill="#6f7074"/>
<rect x="425" y="357" width="3" height="14" fill="#5e160d"/>
<rect x="426" y="358" width="1" height="12" fill="#d9503f"/>
<rect x="432" y="309" width="1" height="61" fill="#6f7074"/>
<rect x="431" y="321" width="3" height="48" fill="#1f5233"/>
<rect x="432" y="322" width="1" height="46" fill="#63a37b"/>
<rect x="437" y="305" width="1" height="24" fill="#6f7074"/>
<rect x="436" y="318" width="3" height="5" fill="#1f5233"/>
<rect x="437" y="319" width="1" height="3" fill="#63a37b"/>
<rect x="443" y="278" width="1" height="46" fill="#6f7074"/>
<rect x="442" y="290" width="3" height="30" fill="#1f5233"/>
<rect x="443" y="291" width="1" height="28" fill="#63a37b"/>
<rect x="448" y="270" width="1" height="26" fill="#6f7074"/>
<rect x="447" y="284" width="3" height="11" fill="#5e160d"/>
<rect x="448" y="285" width="1" height="9" fill="#d9503f"/>
<rect x="453" y="285" width="1" height="30" fill="#6f7074"/>
<rect x="452" y="296" width="3" height="1" fill="#1f5233"/>
<rect x="459" y="265" width="1" height="38" fill="#6f7074"/>
<rect x="458" y="293" width="3" height="3" fill="#1f5233"/>
<rect x="459" y="294" width="1" height="1" fill="#63a37b"/>
<rect x="464" y="284" width="1" height="71" fill="#6f7074"/>
<rect x="463" y="293" width="3" height="56" fill="#5e160d"/>
<rect x="464" y="294" width="1" height="54" fill="#d9503f"/>
<rect x="469" y="333" width="1" height="48" fill="#6f7074"/>
<rect x="468" y="349" width="3" height="32" fill="#5e160d"/>
<rect x="469" y="350" width="1" height="30" fill="#d9503f"/>
<rect x="475" y="336" width="1" height="44" fill="#6f7074"/>
<rect x="474" y="341" width="3" height="34" fill="#1f5233"/>
<rect x="475" y="342" width="1" height="32" fill="#63a37b"/>
<rect x="480" y="330" width="1" height="40" fill="#6f7074"/>
<rect x="479" y="342" width="3" height="20" fill="#5e160d"/>
<rect x="480" y="343" width="1" height="18" fill="#d9503f"/>
<rect x="486" y="348" width="1" height="44" fill="#6f7074"/>
<rect x="485" y="360" width="3" height="3" fill="#1f5233"/>
<rect x="486" y="361" width="1" height="1" fill="#63a37b"/>
<rect x="491" y="357" width="1" height="50" fill="#6f7074"/>
<rect x="490" y="360" width="3" height="40" fill="#5e160d"/>
<rect x="491" y="361" width="1" height="38" fill="#d9503f"/>
<rect x="496" y="361" width="1" height="45" fill="#6f7074"/>
<rect x="495" y="381" width="3" height="19" fill="#1f5233"/>
<rect x="496" y="382" width="1" height="17" fill="#63a37b"/>
<rect x="502" y="367" width="1" height="27" fill="#6f7074"/>
<rect x="501" y="381" width="3" height="5" fill="#5e160d"/>
<rect x="502" y="382" width="1" height="3" fill="#d9503f"/>
<rect x="507" y="380" width="1" height="36" fill="#6f7074"/>
<rect x="506" y="385" width="3" height="11" fill="#5e160d"/>
<rect x="507" y="386" width="1" height="9" fill="#d9503f"/>
<rect x="512" y="368" width="1" height="55" fill="#6f7074"/>
<rect x="511" y="395" width="3" height="25" fill="#5e160d"/>
<rect x="512" y="396" width="1" height="23" fill="#d9503f"/>
<rect x="518" y="409" width="1" height="39" fill="#6f7074"/>
<rect x="517" y="420" width="3" height="22" fill="#5e160d"/>
<rect x="518" y="421" width="1" height="20" fill="#d9503f"/>
<rect x="523" y="405" width="1" height="40" fill="#6f7074"/>
<rect x="522" y="430" width="3" height="12" fill="#1f5233"/>
<rect x="523" y="431" width="1" height="10" fill="#63a37b"/>
<rect x="528" y="416" width="1" height="18" fill="#6f7074"/>
<rect x="527" y="425" width="3" height="7" fill="#1f5233"/>
<rect x="528" y="426" width="1" height="5" fill="#63a37b"/>
<rect x="534" y="380" width="1" height="58" fill="#6f7074"/>
<rect x="533" y="397" width="3" height="29" fill="#1f5233"/>
<rect x="534" y="398" width="1" height="27" fill="#63a37b"/>
<rect x="539" y="382" width="1" height="46" fill="#6f7074"/>
<rect x="538" y="385" width="3" height="13" fill="#1f5233"/>
<rect x="539" y="386" width="1" height="11" fill="#63a37b"/>
<rect x="545" y="334" width="1" height="68" fill="#6f7074"/>
<rect x="544" y="343" width="3" height="42" fill="#1f5233"/>
<rect x="545" y="344" width="1" height="40" fill="#63a37b"/>
<rect x="550" y="331" width="1" height="51" fill="#6f7074"/>
<rect x="549" y="342" width="3" height="39" fill="#5e160d"/>
<rect x="550" y="343" width="1" height="37" fill="#d9503f"/>
<rect x="555" y="376" width="1" height="42" fill="#6f7074"/>
<rect x="554" y="379" width="3" height="9" fill="#5e160d"/>
<rect x="555" y="380" width="1" height="7" fill="#d9503f"/>
<rect x="561" y="374" width="1" height="33" fill="#6f7074"/>
<rect x="560" y="387" width="3" height="7" fill="#5e160d"/>
<rect x="561" y="388" width="1" height="5" fill="#d9503f"/>
<rect x="566" y="353" width="1" height="52" fill="#6f7074"/>
<rect x="565" y="384" width="3" height="10" fill="#1f5233"/>
<rect x="566" y="385" width="1" height="8" fill="#63a37b"/>
<rect x="571" y="323" width="1" height="61" fill="#6f7074"/>
<rect x="570" y="325" width="3" height="59" fill="#1f5233"/>
<rect x="571" y="326" width="1" height="57" fill="#63a37b"/>
<rect x="577" y="309" width="1" height="28" fill="#6f7074"/>
<rect x="576" y="317" width="3" height="9" fill="#1f5233"/>
<rect x="577" y="318" width="1" height="7" fill="#63a37b"/>
<rect x="582" y="304" width="1" height="56" fill="#6f7074"/>
<rect x="581" y="320" width="3" height="29" fill="#5e160d"/>
<rect x="582" y="321" width="1" height="27" fill="#d9503f"/>
<rect x="587" y="292" width="1" height="57" fill="#6f7074"/>
<rect x="586" y="299" width="3" height="49" fill="#1f5233"/>
<rect x="587" y="300" width="1" height="47" fill="#63a37b"/>
<rect x="593" y="256" width="1" height="48" fill="#6f7074"/>
<rect x="592" y="274" width="3" height="26" fill="#1f5233"/>
<rect x="593" y="275" width="1" height="24" fill="#63a37b"/>
<rect x="598" y="213" width="1" height="76" fill="#6f7074"/>
<rect x="597" y="216" width="3" height="58" fill="#1f5233"/>
<rect x="598" y="217" width="1" height="56" fill="#63a37b"/>
<rect x="604" y="182" width="1" height="39" fill="#6f7074"/>
<rect x="603" y="197" width="3" height="19" fill="#1f5233"/>
<rect x="604" y="198" width="1" height="17" fill="#63a37b"/>
<rect x="609" y="188" width="1" height="32" fill="#6f7074"/>
<rect x="608" y="198" width="3" height="11" fill="#5e160d"/>
<rect x="609" y="199" width="1" height="9" fill="#d9503f"/>
<rect x="614" y="202" width="1" height="46" fill="#6f7074"/>
<rect x="613" y="209" width="3" height="15" fill="#5e160d"/>
<rect x="614" y="210" width="1" height="13" fill="#d9503f"/>
<rect x="620" y="205" width="1" height="54" fill="#6f7074"/>
<rect x="619" y="221" width="3" height="4" fill="#1f5233"/>
<rect x="620" y="222" width="1" height="2" fill="#63a37b"/>
<rect x="625" y="185" width="1" height="56" fill="#6f7074"/>
<rect x="624" y="222" width="3" height="14" fill="#5e160d"/>
<rect x="625" y="223" width="1" height="12" fill="#d9503f"/>
<rect x="630" y="231" width="1" height="30" fill="#6f7074"/>
<rect x="629" y="234" width="3" height="15" fill="#5e160d"/>
<rect x="630" y="235" width="1" height="13" fill="#d9503f"/>
<rect x="636" y="231" width="1" height="30" fill="#6f7074"/>
<rect x="635" y="250" width="3" height="2" fill="#5e160d"/>
<rect x="641" y="226" width="1" height="26" fill="#6f7074"/>
<rect x="640" y="232" width="3" height="18" fill="#1f5233"/>
<rect x="641" y="233" width="1" height="16" fill="#63a37b"/>
<rect x="646" y="230" width="1" height="71" fill="#6f7074"/>
<rect x="645" y="231" width="3" height="55" fill="#5e160d"/>
<rect x="646" y="232" width="1" height="53" fill="#d9503f"/>
<rect x="652" y="271" width="1" height="37" fill="#6f7074"/>
<rect x="651" y="286" width="3" height="16" fill="#5e160d"/>
<rect x="652" y="287" width="1" height="14" fill="#d9503f"/>
<rect x="657" y="241" width="1" height="63" fill="#6f7074"/>
<rect x="656" y="259" width="3" height="41" fill="#1f5233"/>
<rect x="657" y="260" width="1" height="39" fill="#63a37b"/>
<rect x="663" y="244" width="1" height="31" fill="#6f7074"/>
<rect x="662" y="253" width="3" height="8" fill="#5e160d"/>
<rect x="663" y="254" width="1" height="6" fill="#d9503f"/>
<rect x="668" y="236" width="1" height="26" fill="#6f7074"/>
<rect x="667" y="250" width="3" height="11" fill="#1f5233"/>
<rect x="668" y="251" width="1" height="9" fill="#63a37b"/>
<rect x="673" y="238" width="1" height="22" fill="#6f7074"/>
<rect x="672" y="250" width="3" height="5" fill="#5e160d"/>
<rect x="673" y="251" width="1" height="3" fill="#d9503f"/>
<rect x="679" y="215" width="1" height="53" fill="#6f7074"/>
<rect x="678" y="236" width="3" height="20" fill="#1f5233"/>
<rect x="679" y="237" width="1" height="18" fill="#63a37b"/>
<rect x="684" y="182" width="1" height="59" fill="#6f7074"/>
<rect x="683" y="188" width="3" height="50" fill="#1f5233"/>
<rect x="684" y="189" width="1" height="48" fill="#63a37b"/>
<rect x="689" y="172" width="1" height="58" fill="#6f7074"/>
<rect x="688" y="178" width="3" height="10" fill="#1f5233"/>
<rect x="689" y="179" width="1" height="8" fill="#63a37b"/>
<rect x="695" y="140" width="1" height="39" fill="#6f7074"/>
<rect x="694" y="143" width="3" height="35" fill="#1f5233"/>
<rect x="695" y="144" width="1" height="33" fill="#63a37b"/>
<rect x="700" y="107" width="1" height="48" fill="#6f7074"/>
<rect x="699" y="113" width="3" height="31" fill="#1f5233"/>
<rect x="700" y="114" width="1" height="29" fill="#63a37b"/>
<rect x="705" y="39" width="1" height="75" fill="#6f7074"/>
<rect x="704" y="43" width="3" height="71" fill="#1f5233"/>
<rect x="705" y="44" width="1" height="69" fill="#63a37b"/>
<rect x="711" y="37" width="1" height="27" fill="#6f7074"/>
<rect x="710" y="44" width="3" height="20" fill="#5e160d"/>
<rect x="711" y="45" width="1" height="18" fill="#d9503f"/>
<rect x="716" y="54" width="1" height="28" fill="#6f7074"/>
<rect x="715" y="63" width="3" height="10" fill="#5e160d"/>
<rect x="716" y="64" width="1" height="8" fill="#d9503f"/>
<rect x="722" y="46" width="1" height="47" fill="#6f7074"/>
<rect x="721" y="72" width="3" height="17" fill="#5e160d"/>
<rect x="722" y="73" width="1" height="15" fill="#d9503f"/>
<rect x="727" y="87" width="1" height="85" fill="#6f7074"/>
<rect x="726" y="88" width="3" height="52" fill="#5e160d"/>
<rect x="727" y="89" width="1" height="50" fill="#d9503f"/>
<rect x="732" y="125" width="1" height="61" fill="#6f7074"/>
<rect x="731" y="139" width="3" height="33" fill="#5e160d"/>
<rect x="732" y="140" width="1" height="31" fill="#d9503f"/>
<rect x="738" y="155" width="1" height="43" fill="#6f7074"/>
<rect x="737" y="172" width="3" height="8" fill="#5e160d"/>
<rect x="738" y="173" width="1" height="6" fill="#d9503f"/>
<rect x="743" y="165" width="1" height="41" fill="#6f7074"/>
<rect x="742" y="180" width="3" height="16" fill="#5e160d"/>
<rect x="743" y="181" width="1" height="14" fill="#d9503f"/>
<rect x="748" y="154" width="1" height="47" fill="#6f7074"/>
<rect x="747" y="156" width="3" height="40" fill="#1f5233"/>
<rect x="748" y="157" width="1" height="38" fill="#63a37b"/>
<rect x="754" y="127" width="1" height="42" fill="#6f7074"/>
<rect x="753" y="136" width="3" height="22" fill="#1f5233"/>
<rect x="754" y="137" width="1" height="20" fill="#63a37b"/>
<rect x="759" y="110" width="1" height="105" fill="#6f7074"/>
<rect x="758" y="136" width="3" height="72" fill="#5e160d"/>
<rect x="759" y="137" width="1" height="70" fill="#d9503f"/>
<rect x="764" y="164" width="1" height="60" fill="#6f7074"/>
<rect x="763" y="184" width="3" height="24" fill="#1f5233"/>
<rect x="764" y="185" width="1" height="22" fill="#63a37b"/>
<rect x="770" y="170" width="1" height="22" fill="#6f7074"/>
<rect x="769" y="181" width="3" height="7" fill="#5e160d"/>
<rect x="770" y="182" width="1" height="5" fill="#d9503f"/>
<rect x="775" y="186" width="1" height="48" fill="#6f7074"/>
<rect x="774" y="188" width="3" height="22" fill="#5e160d"/>
<rect x="775" y="189" width="1" height="20" fill="#d9503f"/>
<rect x="781" y="203" width="1" height="61" fill="#6f7074"/>
<rect x="780" y="211" width="3" height="39" fill="#5e160d"/>
<rect x="781" y="212" width="1" height="37" fill="#d9503f"/>
<rect x="786" y="241" width="1" height="53" fill="#6f7074"/>
<rect x="785" y="251" width="3" height="1" fill="#1f5233"/>
<rect x="791" y="210" width="1" height="51" fill="#6f7074"/>
<rect x="790" y="233" width="3" height="17" fill="#1f5233"/>
<rect x="791" y="234" width="1" height="15" fill="#63a37b"/>
<rect x="797" y="211" width="1" height="37" fill="#6f7074"/>
<rect x="796" y="215" width="3" height="16" fill="#1f5233"/>
<rect x="797" y="216" width="1" height="14" fill="#63a37b"/>
<rect x="802" y="213" width="1" height="48" fill="#6f7074"/>
<rect x="801" y="215" width="3" height="19" fill="#5e160d"/>
<rect x="802" y="216" width="1" height="17" fill="#d9503f"/>
<rect x="807" y="215" width="1" height="34" fill="#6f7074"/>
<rect x="806" y="234" width="3" height="14" fill="#5e160d"/>
<rect x="807" y="235" width="1" height="12" fill="#d9503f"/>
<rect x="813" y="197" width="1" height="72" fill="#6f7074"/>
<rect x="812" y="247" width="3" height="21" fill="#5e160d"/>
<rect x="813" y="248" width="1" height="19" fill="#d9503f"/>
<rect x="818" y="236" width="1" height="35" fill="#6f7074"/>
<rect x="817" y="258" width="3" height="10" fill="#1f5233"/>
<rect x="818" y="259" width="1" height="8" fill="#63a37b"/>
<rect x="823" y="248" width="1" height="48" fill="#6f7074"/>
<rect x="822" y="258" width="3" height="5" fill="#5e160d"/>
<rect x="823" y="259" width="1" height="3" fill="#d9503f"/>
<rect x="829" y="230" width="1" height="36" fill="#6f7074"/>
<rect x="828" y="257" width="3" height="6" fill="#1f5233"/>
<rect x="829" y="258" width="1" height="4" fill="#63a37b"/>
<rect x="834" y="223" width="1" height="38" fill="#6f7074"/>
<rect x="833" y="241" width="3" height="16" fill="#1f5233"/>
<rect x="834" y="242" width="1" height="14" fill="#63a37b"/>
<rect x="840" y="212" width="1" height="42" fill="#6f7074"/>
<rect x="839" y="233" width="3" height="7" fill="#1f5233"/>
<rect x="840" y="234" width="1" height="5" fill="#63a37b"/>
<rect x="845" y="224" width="1" height="37" fill="#6f7074"/>
<rect x="844" y="234" width="3" height="6" fill="#5e160d"/>
<rect x="845" y="235" width="1" height="4" fill="#d9503f"/>
<rect x="850" y="222" width="1" height="28" fill="#6f7074"/>
<rect x="849" y="229" width="3" height="9" fill="#1f5233"/>
<rect x="850" y="230" width="1" height="7" fill="#63a37b"/>
<rect x="856" y="206" width="1" height="40" fill="#6f7074"/>
<rect x="855" y="228" width="3" height="14" fill="#5e160d"/>
<rect x="856" y="229" width="1" height="12" fill="#d9503f"/>
<rect x="861" y="223" width="1" height="74" fill="#6f7074"/>
<rect x="860" y="242" width="3" height="5" fill="#5e160d"/>
<rect x="861" y="243" width="1" height="3" fill="#d9503f"/>
<rect x="866" y="242" width="1" height="66" fill="#6f7074"/>
<rect x="865" y="247" width="3" height="56" fill="#5e160d"/>
<rect x="866" y="248" width="1" height="54" fill="#d9503f"/>
<rect x="872" y="278" width="1" height="51" fill="#6f7074"/>
<rect x="871" y="303" width="3" height="14" fill="#5e160d"/>
<rect x="872" y="304" width="1" height="12" fill="#d9503f"/>
<rect x="877" y="299" width="1" height="21" fill="#6f7074"/>
<rect x="876" y="305" width="3" height="11" fill="#1f5233"/>
<rect x="877" y="306" width="1" height="9" fill="#63a37b"/>
<rect x="883" y="277" width="1" height="45" fill="#6f7074"/>
<rect x="882" y="283" width="3" height="22" fill="#1f5233"/>
<rect x="883" y="284" width="1" height="20" fill="#63a37b"/>
<rect x="888" y="232" width="1" height="63" fill="#6f7074"/>
<rect x="887" y="246" width="3" height="37" fill="#1f5233"/>
<rect x="888" y="247" width="1" height="35" fill="#63a37b"/>
<rect x="893" y="238" width="1" height="40" fill="#6f7074"/>
<rect x="892" y="246" width="3" height="24" fill="#5e160d"/>
<rect x="893" y="247" width="1" height="22" fill="#d9503f"/>
<rect x="899" y="249" width="1" height="66" fill="#6f7074"/>
<rect x="898" y="269" width="3" height="42" fill="#5e160d"/>
<rect x="899" y="270" width="1" height="40" fill="#d9503f"/>
<rect x="904" y="283" width="1" height="28" fill="#6f7074"/>
<rect x="903" y="292" width="3" height="18" fill="#1f5233"/>
<rect x="904" y="293" width="1" height="16" fill="#63a37b"/>
<rect x="909" y="289" width="1" height="50" fill="#6f7074"/>
<rect x="908" y="291" width="3" height="31" fill="#5e160d"/>
<rect x="909" y="292" width="1" height="29" fill="#d9503f"/>
<rect x="915" y="310" width="1" height="52" fill="#6f7074"/>
<rect x="914" y="322" width="3" height="30" fill="#5e160d"/>
<rect x="915" y="323" width="1" height="28" fill="#d9503f"/>
<rect x="920" y="350" width="1" height="30" fill="#6f7074"/>
<rect x="919" y="352" width="3" height="18" fill="#5e160d"/>
<rect x="920" y="353" width="1" height="16" fill="#d9503f"/>
<rect x="925" y="347" width="1" height="30" fill="#6f7074"/>
<rect x="924" y="368" width="3" height="4" fill="#5e160d"/>
<rect x="925" y="369" width="1" height="2" fill="#d9503f"/>
<rect x="931" y="330" width="1" height="42" fill="#6f7074"/>
<rect x="930" y="348" width="3" height="24" fill="#1f5233"/>
<rect x="931" y="349" width="1" height="22" fill="#63a37b"/>
<rect x="936" y="339" width="1" height="33" fill="#6f7074"/>
<rect x="935" y="349" width="3" height="11" fill="#5e160d"/>
<rect x="936" y="350" width="1" height="9" fill="#d9503f"/>
<rect x="942" y="348" width="1" height="36" fill="#6f7074"/>
<rect x="941" y="359" width="3" height="1" fill="#1f5233"/>
<rect x="947" y="351" width="1" height="52" fill="#6f7074"/>
<rect x="946" y="359" width="3" height="41" fill="#5e160d"/>
<rect x="947" y="360" width="1" height="39" fill="#d9503f"/>
<rect x="952" y="380" width="1" height="33" fill="#6f7074"/>
<rect x="951" y="400" width="3" height="13" fill="#5e160d"/>
<rect x="952" y="401" width="1" height="11" fill="#d9503f"/>
<rect x="958" y="398" width="1" height="19" fill="#6f7074"/>
<rect x="957" y="408" width="3" height="4" fill="#5e160d"/>
<rect x="958" y="409" width="1" height="2" fill="#d9503f"/>
<rect x="963" y="390" width="1" height="27" fill="#6f7074"/>
<rect x="962" y="409" width="3" height="3" fill="#1f5233"/>
<rect x="963" y="410" width="1" height="1" fill="#63a37b"/>
<rect x="968" y="392" width="1" height="44" fill="#6f7074"/>
<rect x="967" y="408" width="3" height="23" fill="#5e160d"/>
<rect x="968" y="409" width="1" height="21" fill="#d9503f"/>
<rect x="974" y="430" width="1" height="53" fill="#6f7074"/>
<rect x="973" y="431" width="3" height="25" fill="#5e160d"/>
<rect x="974" y="432" width="1" height="23" fill="#d9503f"/>
<rect x="979" y="455" width="1" height="31" fill="#6f7074"/>
<rect x="978" y="456" width="3" height="26" fill="#5e160d"/>
<rect x="979" y="457" width="1" height="24" fill="#d9503f"/>
<rect x="984" y="475" width="1" height="29" fill="#6f7074"/>
<rect x="983" y="482" width="3" height="15" fill="#5e160d"/>
<rect x="984" y="483" width="1" height="13" fill="#d9503f"/>
<rect x="990" y="493" width="1" height="32" fill="#6f7074"/>
<rect x="989" y="496" width="3" height="29" fill="#5e160d"/>
<rect x="990" y="497" width="1" height="27" fill="#d9503f"/>
<rect x="995" y="519" width="1" height="26" fill="#6f7074"/>
<rect x="994" y="523" width="3" height="11" fill="#5e160d"/>
<rect x="995" y="524" width="1" height="9" fill="#d9503f"/>
<rect x="1001" y="489" width="1" height="51" fill="#6f7074"/>
<rect x="1000" y="501" width="3" height="31" fill="#1f5233"/>
<rect x="1001" y="502" width="1" height="29" fill="#63a37b"/>
<rect x="1006" y="466" width="1" height="44" fill="#6f7074"/>
<rect x="1005" y="501" width="3" height="3" fill="#5e160d"/>
<rect x="1006" y="502" width="1" height="1" fill="#d9503f"/>
<rect x="1011" y="491" width="1" height="67" fill="#6f7074"/>
<rect x="1010" y="503" width="3" height="55" fill="#5e160d"/>
<rect x="1011" y="504" width="1" height="53" fill="#d9503f"/>
<rect x="1017" y="549" width="1" height="24" fill="#6f7074"/>
<rect x="1016" y="558" width="3" height="4" fill="#5e160d"/>
<rect x="1017" y="559" width="1" height="2" fill="#d9503f"/>
<rect x="1022" y="512" width="1" height="69" fill="#6f7074"/>
<rect x="1021" y="532" width="3" height="31" fill="#1f5233"/>
<rect x="1022" y="533" width="1" height="29" fill="#63a37b"/>
<rect x="1027" y="503" width="1" height="43" fill="#6f7074"/>
<rect x="1026" y="505" width="3" height="29" fill="#1f5233"/>
<rect x="1027" y="506" width="1" height="27" fill="#63a37b"/>
<rect x="1033" y="471" width="1" height="75" fill="#6f7074"/>
<rect x="1032" y="482" width="3" height="24" fill="#1f5233"/>
<rect x="1033" y="483" width="1" height="22" fill="#63a37b"/>
<rect x="1038" y="479" width="1" height="40" fill="#6f7074"/>
<rect x="1037" y="482" width="3" height="2" fill="#5e160d"/>
<rect x="1043" y="456" width="1" height="39" fill="#6f7074"/>
<rect x="1042" y="462" width="3" height="20" fill="#1f5233"/>
<rect x="1043" y="463" width="1" height="18" fill="#63a37b"/>
<rect x="1049" y="433" width="1" height="34" fill="#6f7074"/>
<rect x="1048" y="447" width="3" height="16" fill="#1f5233"/>
<rect x="1049" y="448" width="1" height="14" fill="#63a37b"/>
<rect x="1054" y="436" width="1" height="79" fill="#6f7074"/>
<rect x="1053" y="448" width="3" height="64" fill="#5e160d"/>
<rect x="1054" y="449" width="1" height="62" fill="#d9503f"/>
<rect x="1060" y="489" width="1" height="50" fill="#6f7074"/>
<rect x="1059" y="512" width="3" height="20" fill="#5e160d"/>
<rect x="1060" y="513" width="1" height="18" fill="#d9503f"/>
<rect x="1065" y="492" width="1" height="40" fill="#6f7074"/>
<rect x="1064" y="496" width="3" height="35" fill="#1f5233"/>
<rect x="1065" y="497" width="1" height="33" fill="#63a37b"/>
<rect x="1070" y="493" width="1" height="41" fill="#6f7074"/>
<rect x="1069" y="497" width="3" height="13" fill="#5e160d"/>
<rect x="1070" y="498" width="1" height="11" fill="#d9503f"/>
<rect x="1076" y="496" width="1" height="35" fill="#6f7074"/>
<rect x="1075" y="509" width="3" height="22" fill="#5e160d"/>
<rect x="1076" y="510" width="1" height="20" fill="#d9503f"/>
<rect x="1081" y="505" width="1" height="50" fill="#6f7074"/>
<rect x="1080" y="530" width="3" height="1" fill="#1f5233"/>
<rect x="1086" y="516" width="1" height="36" fill="#6f7074"/>
<rect x="1085" y="521" width="3" height="9" fill="#1f5233"/>
<rect x="1086" y="522" width="1" height="7" fill="#63a37b"/>
<rect x="1092" y="472" width="1" height="56" fill="#6f7074"/>
<rect x="1091" y="479" width="3" height="42" fill="#1f5233"/>
<rect x="1092" y="480" width="1" height="40" fill="#63a37b"/>
<rect x="1097" y="457" width="1" height="66" fill="#6f7074"/>
<rect x="1096" y="479" width="3" height="41" fill="#5e160d"/>
<rect x="1097" y="480" width="1" height="39" fill="#d9503f"/>
<rect x="1102" y="513" width="1" height="34" fill="#6f7074"/>
<rect x="1101" y="521" width="3" height="25" fill="#5e160d"/>
<rect x="1102" y="522" width="1" height="23" fill="#d9503f"/>
<rect x="1108" y="531" width="1" height="33" fill="#6f7074"/>
<rect x="1107" y="537" width="3" height="9" fill="#1f5233"/>
<rect x="1108" y="538" width="1" height="7" fill="#63a37b"/>
<rect x="1113" y="519" width="1" height="27" fill="#6f7074"/>
<rect x="1112" y="537" width="3" height="3" fill="#5e160d"/>
<rect x="1113" y="538" width="1" height="1" fill="#d9503f"/>
<rect x="1119" y="513" width="1" height="42" fill="#6f7074"/>
<rect x="1118" y="519" width="3" height="16" fill="#1f5233"/>
<rect x="1119" y="520" width="1" height="14" fill="#63a37b"/>
<rect x="1124" y="501" width="1" height="39" fill="#6f7074"/>
<rect x="1123" y="518" width="3" height="10" fill="#5e160d"/>
<rect x="1124" y="519" width="1" height="8" fill="#d9503f"/>
<rect x="1129" y="519" width="1" height="33" fill="#6f7074"/>
<rect x="1128" y="526" width="3" height="1" fill="#1f5233"/>
<rect x="1135" y="489" width="1" height="39" fill="#6f7074"/>
<rect x="1134" y="500" width="3" height="27" fill="#1f5233"/>
<rect x="1135" y="501" width="1" height="25" fill="#63a37b"/>
<rect x="1140" y="408" width="1" height="99" fill="#6f7074"/>
<rect x="1139" y="414" width="3" height="87" fill="#1f5233"/>
<rect x="1140" y="415" width="1" height="85" fill="#63a37b"/>
<rect x="1145" y="389" width="1" height="44" fill="#6f7074"/>
<rect x="1144" y="414" width="3" height="17" fill="#5e160d"/>
<rect x="1145" y="415" width="1" height="15" fill="#d9503f"/>
<rect x="1151" y="429" width="1" height="41" fill="#6f7074"/>
<rect x="1150" y="431" width="3" height="21" fill="#5e160d"/>
<rect x="1151" y="432" width="1" height="19" fill="#d9503f"/>
<rect x="1156" y="452" width="1" height="28" fill="#6f7074"/>
<rect x="1155" y="453" width="3" height="9" fill="#5e160d"/>
<rect x="1156" y="454" width="1" height="7" fill="#d9503f"/>
<rect x="1161" y="447" width="1" height="48" fill="#6f7074"/>
<rect x="1160" y="460" width="3" height="32" fill="#5e160d"/>
<rect x="1161" y="461" width="1" height="30" fill="#d9503f"/>
<rect x="1167" y="482" width="1" height="24" fill="#6f7074"/>
<rect x="1166" y="489" width="3" height="1" fill="#1f5233"/>
<rect x="1172" y="462" width="1" height="31" fill="#6f7074"/>
<rect x="1171" y="464" width="3" height="26" fill="#1f5233"/>
<rect x="1172" y="465" width="1" height="24" fill="#63a37b"/>
<rect x="1178" y="351" width="1" height="118" fill="#6f7074"/>
<rect x="1177" y="356" width="3" height="106" fill="#1f5233"/>
<rect x="1178" y="357" width="1" height="104" fill="#63a37b"/>
<rect x="1183" y="353" width="1" height="48" fill="#6f7074"/>
<rect x="1182" y="354" width="3" height="42" fill="#5e160d"/>
<rect x="1183" y="355" width="1" height="40" fill="#d9503f"/>
<rect x="1188" y="375" width="1" height="39" fill="#6f7074"/>
<rect x="1187" y="394" width="3" height="4" fill="#5e160d"/>
<rect x="1188" y="395" width="1" height="2" fill="#d9503f"/>
<rect x="1194" y="371" width="1" height="43" fill="#6f7074"/>
<rect x="1193" y="375" width="3" height="22" fill="#1f5233"/>
<rect x="1194" y="376" width="1" height="20" fill="#63a37b"/>
<rect x="1199" y="345" width="1" height="35" fill="#6f7074"/>
<rect x="1198" y="353" width="3" height="20" fill="#1f5233"/>
<rect x="1199" y="354" width="1" height="18" fill="#63a37b"/>
<rect x="1204" y="324" width="1" height="29" fill="#6f7074"/>
<rect x="1203" y="335" width="3" height="18" fill="#1f5233"/>
<rect x="1204" y="336" width="1" height="16" fill="#63a37b"/>
<rect x="1210" y="329" width="1" height="49" fill="#6f7074"/>
<rect x="1209" y="335" width="3" height="23" fill="#5e160d"/>
<rect x="1210" y="336" width="1" height="21" fill="#d9503f"/>
<rect x="1215" y="319" width="1" height="41" fill="#6f7074"/>
<rect x="1214" y="338" width="3" height="22" fill="#1f5233"/>
<rect x="1215" y="339" width="1" height="20" fill="#63a37b"/>
<rect x="1220" y="297" width="1" height="44" fill="#6f7074"/>
<rect x="1219" y="304" width="3" height="34" fill="#1f5233"/>
<rect x="1220" y="305" width="1" height="32" fill="#63a37b"/>
<rect x="1226" y="283" width="1" height="26" fill="#6f7074"/>
<rect x="1225" y="292" width="3" height="12" fill="#1f5233"/>
<rect x="1226" y="293" width="1" height="10" fill="#63a37b"/>
<rect x="1231" y="248" width="1" height="53" fill="#6f7074"/>
<rect x="1230" y="259" width="3" height="33" fill="#1f5233"/>
<rect x="1231" y="260" width="1" height="31" fill="#63a37b"/>
<rect x="1237" y="239" width="1" height="32" fill="#6f7074"/>
<rect x="1236" y="258" width="3" height="1" fill="#1f5233"/>
<rect x="1242" y="250" width="1" height="52" fill="#6f7074"/>
<rect x="1241" y="260" width="3" height="34" fill="#5e160d"/>
<rect x="1242" y="261" width="1" height="32" fill="#d9503f"/>
<rect x="1247" y="247" width="1" height="50" fill="#6f7074"/>
<rect x="1246" y="250" width="3" height="44" fill="#1f5233"/>
<rect x="1247" y="251" width="1" height="42" fill="#63a37b"/>
<rect x="1253" y="243" width="1" height="59" fill="#6f7074"/>
<rect x="1252" y="255" width="3" height="33" fill="#5e160d"/>
<rect x="1253" y="256" width="1" height="31" fill="#d9503f"/>
<rect x="1258" y="279" width="1" height="36" fill="#6f7074"/>
<rect x="1257" y="289" width="3" height="19" fill="#5e160d"/>
<rect x="1258" y="290" width="1" height="17" fill="#d9503f"/>
<rect x="1263" y="297" width="1" height="31" fill="#6f7074"/>
<rect x="1262" y="307" width="3" height="19" fill="#5e160d"/>
<rect x="1263" y="308" width="1" height="17" fill="#d9503f"/>
<rect x="1269" y="298" width="1" height="34" fill="#6f7074"/>
<rect x="1268" y="308" width="3" height="19" fill="#1f5233"/>
<rect x="1269" y="309" width="1" height="17" fill="#63a37b"/>
<rect x="1274" y="304" width="1" height="48" fill="#6f7074"/>
<rect x="1273" y="308" width="3" height="24" fill="#5e160d"/>
<rect x="1274" y="309" width="1" height="22" fill="#d9503f"/>
<rect x="1280" y="309" width="1" height="27" fill="#6f7074"/>
<rect x="1279" y="327" width="3" height="5" fill="#1f5233"/>
<rect x="1280" y="328" width="1" height="3" fill="#63a37b"/>
<rect x="1285" y="296" width="1" height="50" fill="#6f7074"/>
<rect x="1284" y="324" width="3" height="3" fill="#1f5233"/>
<rect x="1285" y="325" width="1" height="1" fill="#63a37b"/>
<rect x="1290" y="287" width="1" height="66" fill="#6f7074"/>
<rect x="1289" y="297" width="3" height="27" fill="#1f5233"/>
<rect x="1290" y="298" width="1" height="25" fill="#63a37b"/>
<rect x="1296" y="209" width="1" height="90" fill="#6f7074"/>
<rect x="1295" y="223" width="3" height="75" fill="#1f5233"/>
<rect x="1296" y="224" width="1" height="73" fill="#63a37b"/>
<rect x="1301" y="210" width="1" height="59" fill="#6f7074"/>
<rect x="1300" y="224" width="3" height="45" fill="#5e160d"/>
<rect x="1301" y="225" width="1" height="43" fill="#d9503f"/>
<rect x="1306" y="253" width="1" height="37" fill="#6f7074"/>
<rect x="1305" y="267" width="3" height="17" fill="#5e160d"/>
<rect x="1306" y="268" width="1" height="15" fill="#d9503f"/>
<rect x="1312" y="225" width="1" height="59" fill="#6f7074"/>
<rect x="1311" y="240" width="3" height="42" fill="#1f5233"/>
<rect x="1312" y="241" width="1" height="40" fill="#63a37b"/>
<rect x="1317" y="238" width="1" height="53" fill="#6f7074"/>
<rect x="1316" y="240" width="3" height="47" fill="#5e160d"/>
<rect x="1317" y="241" width="1" height="45" fill="#d9503f"/>
<rect x="1322" y="257" width="1" height="41" fill="#6f7074"/>
<rect x="1321" y="262" width="3" height="26" fill="#1f5233"/>
<rect x="1322" y="263" width="1" height="24" fill="#63a37b"/>
<rect x="1328" y="233" width="1" height="31" fill="#6f7074"/>
<rect x="1327" y="259" width="3" height="3" fill="#1f5233"/>
<rect x="1328" y="260" width="1" height="1" fill="#63a37b"/>
<rect x="1333" y="248" width="1" height="16" fill="#6f7074"/>
<rect x="1332" y="255" width="3" height="8" fill="#5e160d"/>
<rect x="1333" y="256" width="1" height="6" fill="#d9503f"/>
<rect x="1339" y="240" width="1" height="22" fill="#6f7074"/>
<rect x="1338" y="245" width="3" height="17" fill="#1f5233"/>
<rect x="1339" y="246" width="1" height="15" fill="#63a37b"/>
<rect x="1344" y="204" width="1" height="52" fill="#6f7074"/>
<rect x="1343" y="207" width="3" height="37" fill="#1f5233"/>
<rect x="1344" y="208" width="1" height="35" fill="#63a37b"/>
<rect x="1349" y="192" width="1" height="56" fill="#6f7074"/>
<rect x="1348" y="208" width="3" height="33" fill="#5e160d"/>
<rect x="1349" y="209" width="1" height="31" fill="#d9503f"/>
<rect x="1355" y="219" width="1" height="36" fill="#6f7074"/>
<rect x="1354" y="240" width="3" height="1" fill="#5e160d"/>
<rect x="1360" y="240" width="1" height="6" fill="#6f7074"/>
<rect x="1359" y="241" width="3" height="4" fill="#5e160d"/>
<rect x="1360" y="242" width="1" height="2" fill="#d9503f"/>
<rect x="1365" y="226" width="1" height="72" fill="#6f7074"/>
<rect x="1364" y="243" width="3" height="54" fill="#5e160d"/>
<rect x="1365" y="244" width="1" height="52" fill="#d9503f"/>
<rect x="1371" y="266" width="1" height="32" fill="#6f7074"/>
<rect x="1370" y="274" width="3" height="23" fill="#1f5233"/>
<rect x="1371" y="275" width="1" height="21" fill="#63a37b"/>
<rect x="1376" y="240" width="1" height="36" fill="#6f7074"/>
<rect x="1375" y="264" width="3" height="10" fill="#1f5233"/>
<rect x="1376" y="265" width="1" height="8" fill="#63a37b"/>
<rect x="1381" y="220" width="1" height="78" fill="#6f7074"/>
<rect x="1380" y="247" width="3" height="19" fill="#1f5233"/>
<rect x="1381" y="248" width="1" height="17" fill="#63a37b"/>
<rect x="1387" y="222" width="1" height="46" fill="#6f7074"/>
<rect x="1386" y="232" width="3" height="16" fill="#1f5233"/>
<rect x="1387" y="233" width="1" height="14" fill="#63a37b"/>
<rect x="1392" y="223" width="1" height="37" fill="#6f7074"/>
<rect x="1391" y="233" width="3" height="19" fill="#5e160d"/>
<rect x="1392" y="234" width="1" height="17" fill="#d9503f"/>
<rect x="1398" y="233" width="1" height="28" fill="#6f7074"/>
<rect x="1397" y="235" width="3" height="17" fill="#1f5233"/>
<rect x="1398" y="236" width="1" height="15" fill="#63a37b"/>
<rect x="1403" y="213" width="1" height="47" fill="#6f7074"/>
<rect x="1402" y="227" width="3" height="10" fill="#1f5233"/>
<rect x="1403" y="228" width="1" height="8" fill="#63a37b"/>
<rect x="1408" y="213" width="1" height="32" fill="#6f7074"/>
<rect x="1407" y="227" width="3" height="5" fill="#5e160d"/>
<rect x="1408" y="228" width="1" height="3" fill="#d9503f"/>
<rect x="1414" y="223" width="1" height="25" fill="#6f7074"/>
<rect x="1413" y="230" width="3" height="13" fill="#5e160d"/>
<rect x="1414" y="231" width="1" height="11" fill="#d9503f"/>
<rect x="1419" y="241" width="1" height="33" fill="#6f7074"/>
<rect x="1418" y="243" width="3" height="30" fill="#5e160d"/>
<rect x="1419" y="244" width="1" height="28" fill="#d9503f"/>
</g>
<g shape-rendering="crispEdges">
<rect x="3" y="687" width="1526" height="1" fill="#e0e3eb"/>
<rect x="3" y="717" width="1526" height="1" fill="#e0e3eb"/>
</g>
<g clip-path="url(#ca)">
<polyline points="3.5,689.3 8.5,688.8 13.5,690.1 19.5,690.7 24.5,690.8 30.5,689.6 35.5,691.2 40.5,693.1 46.5,693.3 51.5,692.7 56.5,693.1 62.5,694.3 67.5,695.9 72.5,697.1 78.5,698.1 83.5,698.0 89.5,696.3 94.5,693.6 99.5,695.3 105.5,695.1 110.5,696.7 115.5,696.3 121.5,697.2 126.5,697.2 131.5,696.3 137.5,694.4 142.5,695.0 148.5,694.7 153.5,697.2 158.5,696.0 164.5,696.7 169.5,697.9 174.5,698.1 180.5,697.5 185.5,697.2 190.5,697.1 196.5,697.4 201.5,697.8 207.5,699.6 212.5,695.3 217.5,697.3 223.5,697.7 228.5,695.1 233.5,693.7 239.5,695.5 244.5,694.2 249.5,695.0 255.5,695.8 260.5,696.0 266.5,696.6 271.5,696.5 276.5,697.6 282.5,698.2 287.5,699.4 292.5,700.8 298.5,702.3 303.5,702.6 308.5,702.8 314.5,701.6 319.5,701.0 325.5,701.9 330.5,703.0 335.5,704.1 341.5,704.3 346.5,705.0 351.5,705.2 357.5,706.4 362.5,704.9 367.5,705.5 373.5,706.0 378.5,706.6 384.5,707.5 389.5,707.9 394.5,708.5 400.5,707.7 405.5,707.2 410.5,708.2 416.5,706.9 421.5,707.0 426.5,707.7 432.5,706.8 437.5,708.2 443.5,708.2 448.5,709.4 453.5,710.3 459.5,710.6 464.5,709.0 469.5,708.8 475.5,708.8 480.5,709.2 486.5,709.2 491.5,708.9 496.5,708.9 502.5,710.0 507.5,710.5 512.5,709.8 518.5,710.1 523.5,710.3 528.5,711.8 534.5,710.8 539.5,710.7 545.5,709.2 550.5,708.8 555.5,709.0 561.5,709.8 566.5,709.3 571.5,708.3 577.5,709.4 582.5,708.7 587.5,708.0 593.5,707.9 598.5,706.1 604.5,706.7 609.5,707.7 614.5,707.7 620.5,707.3 625.5,706.7 630.5,707.8 636.5,708.8 641.5,709.9 646.5,708.2 652.5,708.8 657.5,707.7 663.5,708.6 668.5,709.7 673.5,711.0 679.5,710.4 684.5,709.5 689.5,708.7 695.5,709.1 700.5,708.9 705.5,707.1 711.5,708.3 716.5,709.3 722.5,709.1 727.5,706.8 732.5,706.0 738.5,706.3 743.5,706.7 748.5,706.7 754.5,707.1 759.5,703.7 764.5,703.2 770.5,704.9 775.5,705.1 781.5,704.4 786.5,704.3 791.5,704.3 797.5,705.1 802.5,705.1 807.5,706.1 813.5,704.7 818.5,705.5 823.5,705.6 829.5,706.4 834.5,707.0 840.5,707.3 845.5,707.9 850.5,709.0 856.5,709.3 861.5,707.6 866.5,706.4 872.5,706.2 877.5,707.7 883.5,707.9 888.5,706.9 893.5,707.3 899.5,706.2 904.5,707.4 909.5,707.2 915.5,707.0 920.5,708.0 925.5,709.0 931.5,709.2 936.5,709.8 942.5,710.3 947.5,709.7 952.5,710.4 958.5,711.8 963.5,712.7 968.5,712.5 974.5,711.8 979.5,712.4 984.5,713.2 990.5,713.7 995.5,714.5 1001.5,713.7 1006.5,713.5 1011.5,711.8 1017.5,712.8 1022.5,711.2 1027.5,711.1 1033.5,709.2 1038.5,709.5 1043.5,709.8 1049.5,710.4 1054.5,708.3 1060.5,708.1 1065.5,708.4 1070.5,708.7 1076.5,709.3 1081.5,708.9 1086.5,709.4 1092.5,708.7 1097.5,707.5 1102.5,708.2 1108.5,709.0 1113.5,710.0 1119.5,710.1 1124.5,710.4 1129.5,711.0 1135.5,711.3 1140.5,707.9 1145.5,708.0 1151.5,708.4 1156.5,709.5 1161.5,709.2 1167.5,710.4 1172.5,711.2 1178.5,706.7 1183.5,706.7 1188.5,707.3 1194.5,707.5 1199.5,708.2 1204.5,709.2 1210.5,708.9 1215.5,709.2 1220.5,709.2 1226.5,710.3 1231.5,709.8 1237.5,710.5 1242.5,710.0 1247.5,709.6 1253.5,708.8 1258.5,709.3 1263.5,710.1 1269.5,710.7 1274.5,710.5 1280.5,711.4 1285.5,710.9 1290.5,709.6 1296.5,706.9 1301.5,706.2 1306.5,706.9 1312.5,706.2 1317.5,705.9 1322.5,706.4 1328.5,707.4 1333.5,709.2 1339.5,710.5 1344.5,710.0 1349.5,709.2 1355.5,709.7 1360.5,712.0 1365.5,710.2 1371.5,710.9 1376.5,711.3 1381.5,709.2 1387.5,709.1 1392.5,709.6 1398.5,710.6 1403.5,710.4 1408.5,711.1 1414.5,712.1 1419.5,712.6" fill="none" stroke="#b71c2c" stroke-width="1.05" stroke-linejoin="round" />
</g>
<g clip-path="url(#cc)">
<rect x="3" y="747" width="1462" height="30" fill="#2196f3" fill-opacity="0.1"/>
<rect x="3" y="762" width="1462" height="1" fill="#e3e6ea" shape-rendering="crispEdges"/>
<line x1="3" y1="747.5" x2="1465" y2="747.5" stroke="#61636d" stroke-width="1" stroke-dasharray="5 6" shape-rendering="crispEdges"/>
<line x1="3" y1="762.5" x2="1465" y2="762.5" stroke="#9b9da6" stroke-width="1" stroke-dasharray="5 6" shape-rendering="crispEdges"/>
<line x1="3" y1="777.5" x2="1465" y2="777.5" stroke="#61636d" stroke-width="1" stroke-dasharray="5 6" shape-rendering="crispEdges"/>
<polyline points="3.0,751.0 8.0,745.0 13.0,741.0 19.0,739.0 25.0,736.0 30.0,733.5 36.0,735.5 42.0,738.0 47.0,742.0 52.0,746.5 62.0,746.0 68.0,748.5 73.0,751.5 78.0,755.0 83.0,754.0 89.0,762.0 94.0,782.0 99.5,789.0 105.5,786.4 110.5,781.4 115.5,775.7 121.5,778.0 126.5,774.6 131.5,767.6 137.5,775.5 142.5,777.7 148.5,776.9 153.5,773.4 158.5,769.3 164.5,769.5 169.5,773.0 174.5,778.2 180.5,772.7 185.5,766.7 190.5,771.3 196.5,782.9 201.5,771.6 207.5,769.1 212.5,793.6 217.5,798.5 223.5,784.1 228.5,761.9 233.5,740.2 239.5,734.7 244.5,750.2 249.5,750.3 255.5,741.1 260.5,734.5 266.5,739.9 271.5,739.0 276.5,740.1 282.5,747.8 287.5,747.4 292.5,744.9 298.5,746.5 303.5,745.6 308.5,746.9 314.5,747.5 319.5,741.2 325.5,741.8 330.5,744.8 335.5,748.6 341.5,752.7 346.5,750.6 351.5,747.2 357.5,742.4 362.5,750.7 367.5,759.9 373.5,757.3 378.5,754.8 384.5,755.2 389.5,760.1 394.5,751.4 400.5,758.7 405.5,752.2 410.5,747.8 416.5,733.8 421.5,740.9 426.5,755.1 432.5,736.9 437.5,733.9 443.5,731.9 448.5,734.2 453.5,742.1 459.5,741.8 464.5,755.4 469.5,766.4 475.5,763.5 480.5,765.0 486.5,770.0 491.5,777.6 496.5,776.1 502.5,775.6 507.5,780.4 512.5,781.3 518.5,787.4 523.5,782.5 528.5,779.6 534.5,773.3 539.5,770.8 545.5,760.3 550.5,760.6 555.5,768.4 561.5,766.6 566.5,760.3 571.5,741.8 577.5,734.7 582.5,742.9 587.5,736.1 593.5,731.0 598.5,729.2 604.5,729.1 609.5,736.6 614.5,743.2 620.5,746.2 625.5,747.1 630.5,752.2 636.5,753.5 641.5,752.9 646.5,759.2 652.5,763.5 657.5,759.5 663.5,758.9 668.5,757.5 673.5,759.0 679.5,756.3 684.5,744.6 689.5,741.5 695.5,730.1 700.5,727.4 705.5,722.4 711.5,729.5 716.5,738.3 722.5,743.3 727.5,753.3 732.5,758.0 738.5,760.9 743.5,763.1 748.5,760.6 754.5,757.1 759.5,764.1 764.5,767.7 770.5,767.3 775.5,773.9 781.5,780.9 786.5,785.3 791.5,778.4 797.5,775.6 802.5,776.4 807.5,775.4 813.5,776.2 818.5,777.5 823.5,779.2 829.5,774.0 834.5,770.4 840.5,767.1 845.5,769.2 850.5,765.9 856.5,764.2 861.5,775.4 866.5,790.7 872.5,798.4 877.5,792.6 883.5,782.1 888.5,763.6 893.5,765.8 899.5,778.3 904.5,777.8 909.5,783.5 915.5,788.3 920.5,791.0 925.5,786.2 931.5,779.5 936.5,779.4 942.5,779.1 947.5,781.9 952.5,783.2 958.5,782.1 963.5,779.5 968.5,780.9 974.5,786.4 979.5,786.7 984.5,786.7 990.5,786.6 995.5,786.4 1001.5,780.6 1006.5,776.0 1011.5,780.6 1017.5,781.9 1022.5,777.1 1027.5,772.4 1033.5,768.8 1038.5,767.1 1043.5,761.7 1049.5,755.5 1054.5,763.5 1060.5,771.4 1065.5,766.5 1070.5,767.3 1076.5,769.1 1081.5,772.9 1086.5,772.1 1092.5,753.1 1097.5,757.2 1102.5,774.9 1108.5,777.3 1113.5,772.1 1119.5,769.5 1124.5,768.0 1129.5,773.3 1135.5,759.5 1140.5,732.9 1145.5,729.7 1151.5,743.4 1156.5,747.6 1161.5,753.1 1167.5,758.8 1172.5,752.8 1178.5,732.4 1183.5,736.0 1188.5,742.3 1194.5,743.2 1199.5,741.1 1204.5,740.6 1210.5,745.8 1215.5,745.2 1220.5,743.3 1226.5,742.2 1231.5,740.4 1237.5,740.1 1242.5,746.1 1247.5,745.5 1253.5,749.0 1258.5,753.4 1263.5,756.8 1269.5,756.9 1274.5,761.6 1280.5,762.2 1285.5,762.6 1290.5,760.5 1296.5,739.3 1301.5,743.6 1306.5,753.8 1312.5,746.3 1317.5,755.3 1322.5,756.3 1328.5,749.2 1333.5,752.5 1339.5,749.5 1344.5,740.6 1349.5,744.7 1355.5,749.6 1360.5,752.4 1365.5,762.9 1371.5,765.6 1376.5,759.2 1381.5,758.2 1387.5,752.1 1392.5,755.2 1398.5,754.7 1403.5,748.0 1408.5,747.2 1414.5,753.9 1419.5,771.6" fill="none" stroke="#2962ff" stroke-width="1.1" stroke-linejoin="round" />
</g>
<g shape-rendering="crispEdges">
<rect x="1465" y="3" width="1" height="830" fill="#2a2e39"/>
<rect x="3" y="804" width="1526" height="1" fill="#2a2e39"/>
</g>
<text x="1473.3" y="62.8" font-size="12" fill="#595b62" textLength="35" lengthAdjust="spacingAndGlyphs">1.3100</text>
<text x="1473.3" y="112.8" font-size="12" fill="#595b62" textLength="35" lengthAdjust="spacingAndGlyphs">1.3000</text>
<text x="1473.3" y="161.8" font-size="12" fill="#595b62" textLength="35" lengthAdjust="spacingAndGlyphs">1.2900</text>
<text x="1473.3" y="210.8" font-size="12" fill="#595b62" textLength="35" lengthAdjust="spacingAndGlyphs">1.2800</text>
<text x="1473.3" y="308.8" font-size="12" fill="#595b62" textLength="35" lengthAdjust="spacingAndGlyphs">1.2600</text>
<text x="1473.3" y="357.8" font-size="12" fill="#595b62" textLength="35" lengthAdjust="spacingAndGlyphs">1.2500</text>
<text x="1473.3" y="406.8" font-size="12" fill="#595b62" textLength="35" lengthAdjust="spacingAndGlyphs">1.2400</text>
<text x="1473.3" y="505.8" font-size="12" fill="#595b62" textLength="35" lengthAdjust="spacingAndGlyphs">1.2200</text>
<text x="1473.3" y="554.8" font-size="12" fill="#595b62" textLength="35" lengthAdjust="spacingAndGlyphs">1.2100</text>
<text x="1473.3" y="603.8" font-size="12" fill="#595b62" textLength="35" lengthAdjust="spacingAndGlyphs">1.2000</text>
<text x="1473.3" y="652.8" font-size="12" fill="#595b62" textLength="35" lengthAdjust="spacingAndGlyphs">1.1900</text>
<text x="1473" y="709.7" font-size="12" fill="#595b62" textLength="35" lengthAdjust="spacingAndGlyphs">0.0100</text>
<text x="1473" y="737.3" font-size="12" fill="#595b62" textLength="35" lengthAdjust="spacingAndGlyphs">200.00</text>
<text x="1473" y="766.5" font-size="12" fill="#595b62" textLength="24" lengthAdjust="spacingAndGlyphs">0.00</text>
<text x="1473" y="796.8" font-size="12" fill="#595b62" textLength="41" lengthAdjust="spacingAndGlyphs">−200.00</text>
<g clip-path="url(#cm2)">
</g>
<path d="M1465,29.2 H1511 Q1513,29.2 1513,31.2 V43.8 Q1513,45.8 1511,45.8 H1465 Z" fill="#000"/>
<text x="1473.5" y="41.8" font-size="12" font-weight="bold" fill="#fff" textLength="35" lengthAdjust="spacingAndGlyphs">1.3143</text>
<path d="M1465,226 H1511 Q1513,226 1513,228 V240.7 Q1513,242.7 1511,242.7 H1465 Z" fill="#000"/>
<text x="1473.5" y="238.7" font-size="12" font-weight="bold" fill="#fff" textLength="35" lengthAdjust="spacingAndGlyphs">1.2742</text>
<path d="M1465,247 H1511 Q1513,247 1513,249 V262 Q1513,264 1511,264 H1465 Z" fill="#000"/>
<text x="1473.5" y="259.8" font-size="12" font-weight="bold" fill="#fff" textLength="35" lengthAdjust="spacingAndGlyphs">1.2667</text>
<path d="M1465,264 H1523 Q1525,264 1525,266 V278.8 Q1525,280.8 1523,280.8 H1465 Z" fill="#d9503f"/>
<text x="1473.5" y="276.7" font-size="12" font-weight="bold" fill="#fbdedb" textLength="46" lengthAdjust="spacingAndGlyphs">13:43:19</text>
<path d="M1465,322 H1511 Q1513,322 1513,324 V336.5 Q1513,338.5 1511,338.5 H1465 Z" fill="#000"/>
<text x="1473.5" y="334.6" font-size="12" font-weight="bold" fill="#fff" textLength="35" lengthAdjust="spacingAndGlyphs">1.2547</text>
<path d="M1465,405.5 H1511 Q1513,405.5 1513,407.5 V420 Q1513,422 1511,422 H1465 Z" fill="#000"/>
<text x="1473.5" y="418.1" font-size="12" font-weight="bold" fill="#fff" textLength="35" lengthAdjust="spacingAndGlyphs">1.2377</text>
<path d="M1465,442.5 H1511 Q1513,442.5 1513,444.5 V457 Q1513,459 1511,459 H1465 Z" fill="#000"/>
<text x="1473.5" y="455.1" font-size="12" font-weight="bold" fill="#fff" textLength="35" lengthAdjust="spacingAndGlyphs">1.2303</text>
<rect x="1466" y="4" width="63" height="28.5" fill="#fff"/>
<rect x="1469.5" y="7.5" width="55" height="25" rx="4" fill="#fff" stroke="#e0e3eb"/>
<text x="1474" y="24.3" font-size="12" fill="#131751" textLength="21" lengthAdjust="spacingAndGlyphs">USD</text>
<path d="M1515,18.5 l2.5,2.5 l2.5,-2.5" fill="none" stroke="#131722" stroke-width="1.3"/>
<text x="83.5" y="822" font-size="12" fill="#595b62" text-anchor="middle">Feb</text>
<text x="190.5" y="822" font-size="12" fill="#595b62" text-anchor="middle">Mar</text>
<text x="314.5" y="822" font-size="12" fill="#595b62" text-anchor="middle">Apr</text>
<text x="421.5" y="822" font-size="12" fill="#595b62" text-anchor="middle">May</text>
<text x="545.5" y="822" font-size="12" fill="#595b62" text-anchor="middle">Jun</text>
<text x="663.5" y="822" font-size="12" fill="#595b62" text-anchor="middle">Jul</text>
<text x="775.5" y="822" font-size="12" fill="#595b62" text-anchor="middle">Aug</text>
<text x="899.5" y="822" font-size="12" fill="#595b62" text-anchor="middle">Sep</text>
<text x="1011.5" y="822" font-size="12" fill="#595b62" text-anchor="middle">Oct</text>
<text x="1129.5" y="822" font-size="12" fill="#595b62" text-anchor="middle">Nov</text>
<text x="1247.5" y="822" font-size="12" fill="#595b62" text-anchor="middle">Dec</text>
<text x="1360.5" y="822" font-size="12" fill="#595b62" text-anchor="middle">2024</text>
<text x="1440.5" y="822" font-size="12" fill="#595b62" text-anchor="middle">22</text>
<g transform="translate(1498,818.5)" fill="none" stroke="#131722" stroke-width="1.2"><path d="M-6.5,0 L-3.3,-5.6 L3.3,-5.6 L6.5,0 L3.3,5.6 L-3.3,5.6 Z"/><circle r="2"/></g>
<g>
<clipPath id="us"><circle cx="24.1" cy="15.8" r="6"/></clipPath><clipPath id="uk"><circle cx="18" cy="21.9" r="6.1"/></clipPath>
<g clip-path="url(#us)"><rect x="18" y="9" width="13" height="14" fill="#f7fbfc"/><rect x="18" y="9.7" width="13" height="2.9" fill="#ef3340"/><rect x="18" y="15" width="13" height="2.1" fill="#ef3340"/><rect x="18" y="19.1" width="13" height="2.8" fill="#ef3340"/><rect x="18" y="9" width="6.9" height="8.1" fill="#2e8ef4"/><g fill="#cfe6fb"><circle cx="21" cy="11.6" r="0.55"/><circle cx="23" cy="11.6" r="0.55"/><circle cx="19.3" cy="13.5" r="0.55"/><circle cx="21" cy="13.5" r="0.55"/><circle cx="23" cy="13.5" r="0.55"/><circle cx="23" cy="15.5" r="0.55"/></g></g>
<circle cx="18" cy="21.9" r="7" fill="#fff"/><g clip-path="url(#uk)"><rect x="11" y="15" width="14" height="14" fill="#1f4fa3"/><path d="M12,15.9 L24,27.9 M24,15.9 L12,27.9" stroke="#fff" stroke-width="1.9"/><path d="M12,15.9 L24,27.9 M24,15.9 L12,27.9" stroke="#f5656f" stroke-width="0.7"/><path d="M18,15 V29 M11,21.9 H25" stroke="#fff" stroke-width="3"/><path d="M18,15 V29 M11,21.9 H25" stroke="#f7737f" stroke-width="1.9"/></g>
</g>
<text x="34.6" y="24.9" font-size="16" fill="#55575e" textLength="254" lengthAdjust="spacingAndGlyphs">British Pound / U.S. Dollar · 1D · ICE</text>
<path d="M300,13.5 h12.2 l-3.2,5.7 l3.2,5.7 h-12.2z" fill="#fa5252"/>
<circle cx="339.7" cy="19.4" r="8.5" fill="#089981" fill-opacity="0.16"/><circle cx="339.7" cy="19.4" r="4" fill="#089981"/>
<text x="365.5" y="23.6" font-size="12.5" fill="#5d606b" textLength="9.5" lengthAdjust="spacingAndGlyphs">O</text>
<text x="375" y="23.6" font-size="12.5" fill="#7a2a2a" textLength="38.5" lengthAdjust="spacingAndGlyphs">1.2724</text>
<text x="420" y="23.6" font-size="12.5" fill="#5d606b" textLength="8.5" lengthAdjust="spacingAndGlyphs">H</text>
<text x="429.5" y="23.6" font-size="12.5" fill="#7a2a2a" textLength="38.5" lengthAdjust="spacingAndGlyphs">1.2729</text>
<text x="474.5" y="23.6" font-size="12.5" fill="#5d606b" textLength="6.5" lengthAdjust="spacingAndGlyphs">L</text>
<text x="482" y="23.6" font-size="12.5" fill="#7a2a2a" textLength="38.5" lengthAdjust="spacingAndGlyphs">1.2662</text>
<text x="526.5" y="23.6" font-size="12.5" fill="#5d606b" textLength="8" lengthAdjust="spacingAndGlyphs">C</text>
<text x="535.5" y="23.6" font-size="12.5" fill="#7a2a2a" textLength="38.5" lengthAdjust="spacingAndGlyphs">1.2666</text>
<text x="581" y="23.6" font-size="12.5" fill="#7a2a2a" textLength="97.5" lengthAdjust="spacingAndGlyphs">−0.0058 (−0.46%)</text>
<rect x="11" y="34" width="136" height="26" fill="#fff" fill-opacity="0.5"/>
<rect x="11.5" y="35.5" width="54" height="23" rx="4" fill="#fff" stroke="#f23645"/>
<text x="20" y="51.3" font-size="12" fill="#f23645" textLength="37.5" lengthAdjust="spacingAndGlyphs">1.2666</text>
<text x="74.5" y="51.3" font-size="11" fill="#40434e">1</text>
<rect x="88.5" y="35.5" width="54" height="23" rx="4" fill="#fff" stroke="#2962ff"/>
<text x="96.7" y="51.3" font-size="12" fill="#2962ff" textLength="38" lengthAdjust="spacingAndGlyphs">1.2667</text>
<rect x="8" y="63" width="541" height="23.5" rx="2" fill="#fff" fill-opacity="0.6"/>
<text x="12" y="79.7" font-size="12" fill="#50535e" textLength="383" lengthAdjust="spacingAndGlyphs">MA Ribbon SMA close 20 SMA close 50 SMA close 100 SMA close 200</text>
<text x="404" y="79.7" font-size="12" fill="#f23645" textLength="38" lengthAdjust="spacingAndGlyphs">1.2708</text>
<text x="449" y="79.7" font-size="12" fill="#2962ff" textLength="38" lengthAdjust="spacingAndGlyphs">1.2608</text>
<text x="493.5" y="79.7" font-size="12" fill="#40434e" textLength="7" lengthAdjust="spacingAndGlyphs">∅</text>
<text x="507.5" y="79.7" font-size="12" fill="#131722" textLength="37" lengthAdjust="spacingAndGlyphs">1.2546</text>
<rect x="12.5" y="89.5" width="28" height="19.5" rx="3" fill="#fff" stroke="#d1d4dc"/>
<path d="M22.5,101.5 l4,-4 l4,4" fill="none" stroke="#131722" stroke-width="1.4"/>
<rect x="8" y="693" width="124" height="23" fill="#fff" fill-opacity="0.6"/>
<text x="12" y="709.5" font-size="12" fill="#50535e" textLength="67" lengthAdjust="spacingAndGlyphs">ATR 14 RMA</text>
<text x="88" y="709.5" font-size="12" fill="#b71c2c" textLength="38" lengthAdjust="spacingAndGlyphs">0.0083</text>
<rect x="8" y="724" width="158" height="22" fill="#fff" fill-opacity="0.6"/>
<text x="12" y="738.5" font-size="12" fill="#50535e" textLength="102" lengthAdjust="spacingAndGlyphs">CCI 20 hlc3 SMA 5</text>
<text x="122.5" y="738.5" font-size="12" fill="#2962ff" textLength="38.5" lengthAdjust="spacingAndGlyphs">−60.17</text>
<g fill="#131722"><path d="M15,775 h12 v16 h-6.5 v-9.5 h-5.5z"/><circle cx="32" cy="778.3" r="3.1"/><path d="M37.5,775 h8 l-6.8,16 h-7.6z"/></g>
<g filter="url(#sh)" opacity="0.78">
<path transform="translate(1301,741) skewX(-14)" d="M4,6 L14,14 M21,3 Q17,20 2,30 M12,16 Q22,36 12,54 L5,49 M27,11 H59 M35,4 V17 M50,4 V17 M29,23 H57 V54 H29 Z M43,23 V54 M29,38 H57" fill="none" stroke="#fff" stroke-width="7.5" stroke-linejoin="miter"/>
<path transform="translate(1364,741) skewX(-14)" d="M9,9 H42 L39,27 M14,9 L9,28 H52 L47,50 Q45,56 33,53 M2,42 H41" fill="none" stroke="#fff" stroke-width="7.5" stroke-linejoin="miter"/>
<path transform="translate(1421,741) skewX(-14)" d="M5,7 H25 V37 H5 Z M15,13 V31 M12,37 L2,55 M19,39 L27,55 M29,19 H59 M47,4 V49 Q47,56 38,54 M45,23 L29,45" fill="none" stroke="#fff" stroke-width="7.5" stroke-linejoin="miter"/>
<path transform="translate(1482,741) skewX(-14)" d="M15,4 L5,20 H17 L3,38 H19 M2,53 L19,46 M27,9 H53 L31,31 M35,17 L57,31 M29,37 H55 M42,37 V53 M25,54 H59" fill="none" stroke="#fff" stroke-width="7.5" stroke-linejoin="miter"/>
</g>
<g font-size="32" font-weight="bold" font-style="italic" fill="#78a3e5" fill-opacity="0.88" stroke="#78a3e5" stroke-opacity="0.88" stroke-width="0.9" stroke-linejoin="round">
<text transform="translate(1297.8,829) scale(1.27,1)" x="0" y="0">z</text>
<text transform="translate(1323.9,829) scale(1.27,1)" x="0" y="0">z</text>
<text transform="translate(1350,829) scale(1.27,1)" x="0" y="0">r</text>
<text transform="translate(1377,829) scale(1.27,1)" x="0" y="0">t</text>
<text transform="translate(1398.8,829) scale(1.27,1)" x="0" y="0">0</text>
<text transform="translate(1425,829) scale(1.27,1)" x="0" y="0">1</text>
<text transform="translate(1453,829) scale(1.27,1)" x="0" y="0">.</text>
<text transform="translate(1474.8,829) scale(1.27,1)" x="0" y="0">c</text>
<text transform="translate(1499.8,829) scale(1.27,1)" x="0" y="0">n</text>
</g>
</svg></body></html>
